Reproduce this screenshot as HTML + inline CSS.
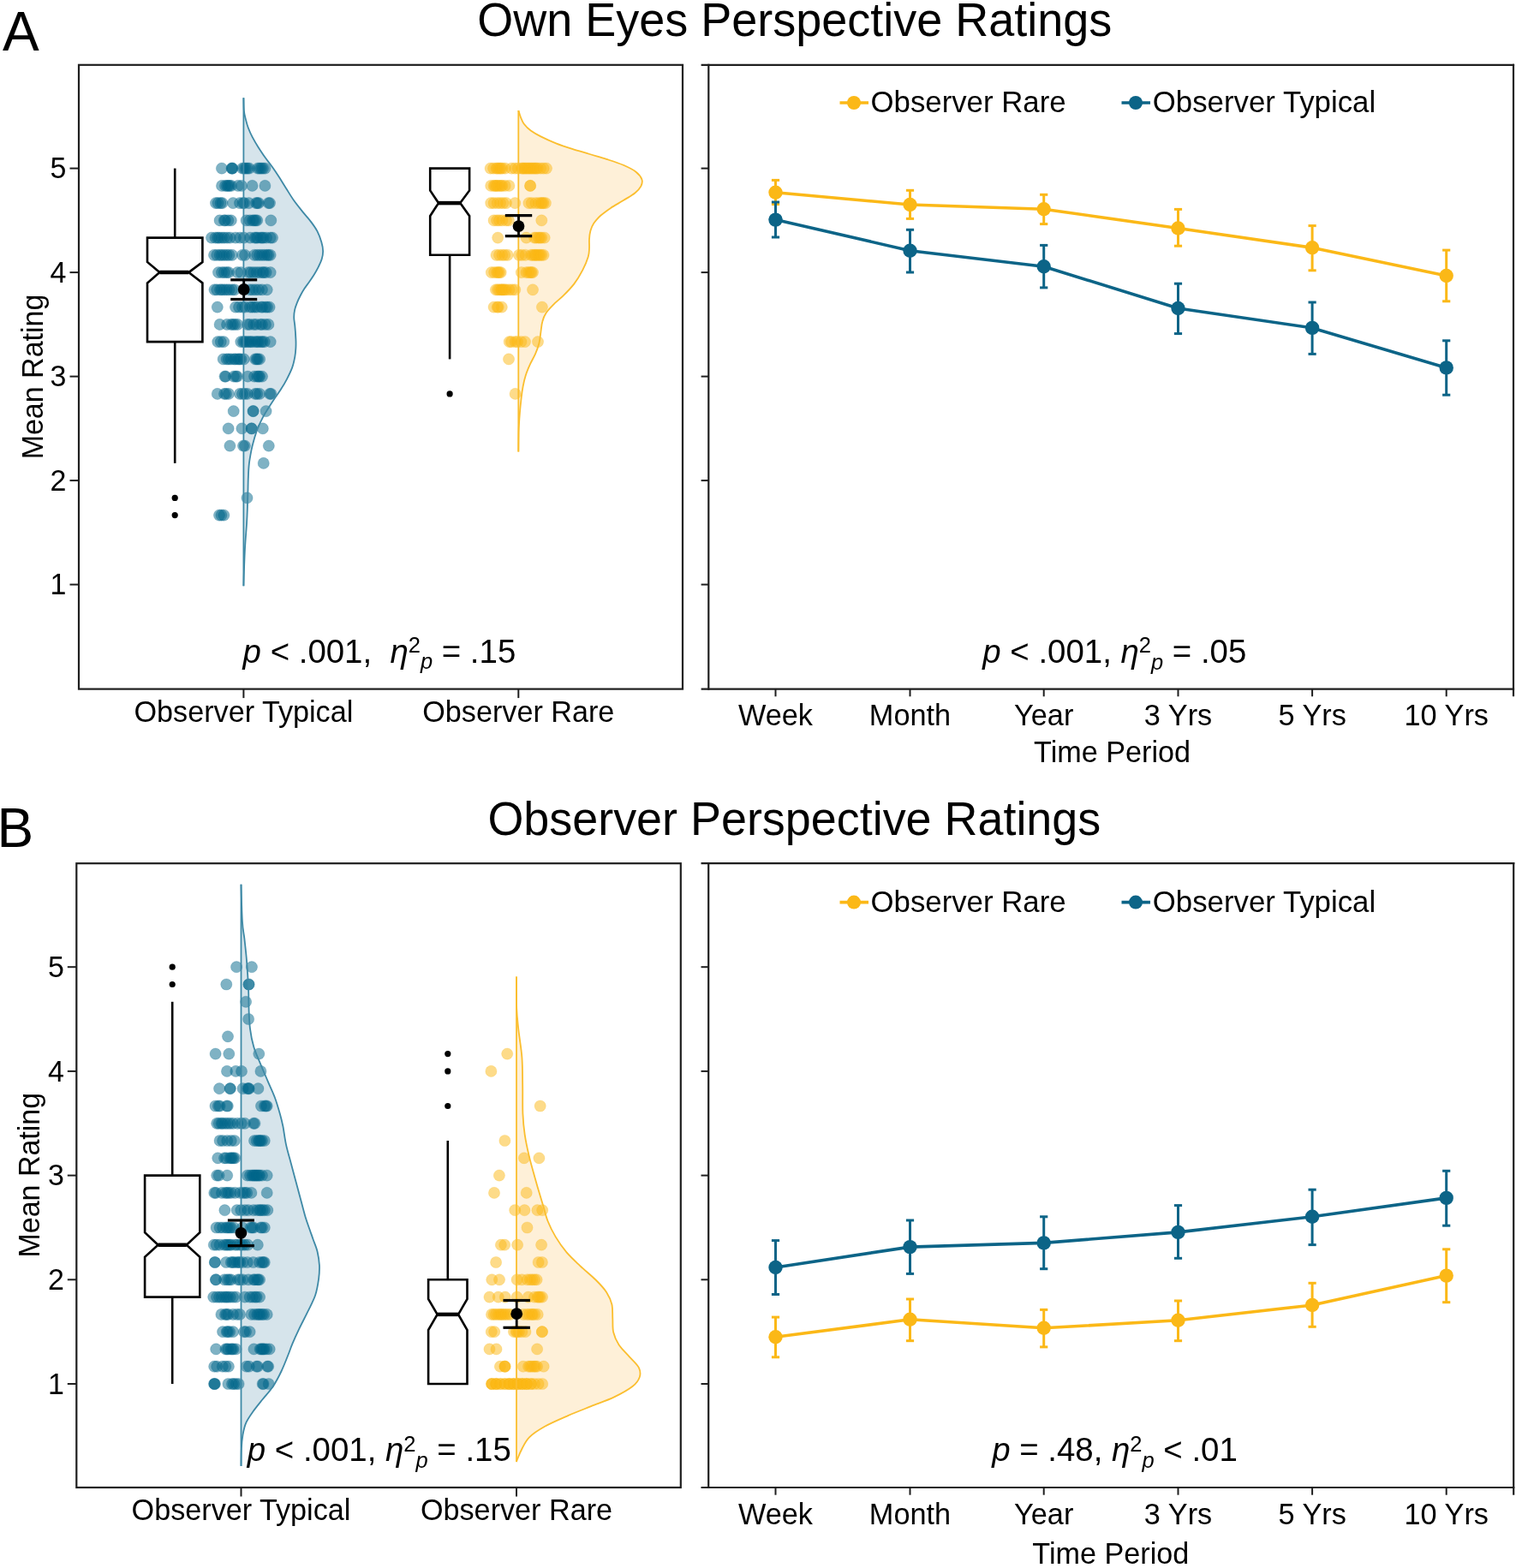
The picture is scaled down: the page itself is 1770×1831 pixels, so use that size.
<!DOCTYPE html>
<html><head><meta charset="utf-8"><title>Own Eyes and Observer Perspective Ratings</title><style>html,body{margin:0;padding:0;background:#fff;}svg{display:block;}</style></head><body>
<svg width="1770" height="1831" viewBox="0 0 1770 1831" font-family="'Liberation Sans', Arial, sans-serif" fill="#000">
<rect width="1770" height="1831" fill="#fff"/>
<text transform="translate(3 59.3) scale(1 1.0)" font-size="64" text-anchor="start">A</text>
<text transform="translate(557.2 42) scale(1 1.015)" font-size="54" text-anchor="start">Own Eyes Perspective Ratings</text>
<text transform="translate(-3.5 988.8) scale(1 1.0)" font-size="64" text-anchor="start">B</text>
<text transform="translate(569.4 975) scale(1 1.015)" font-size="53.9" text-anchor="start">Observer Perspective Ratings</text>
<path d="M284.4,114.3 C284.5,116.8 284.5,125.4 284.9,129.6 C285.3,133.8 286.1,136.1 286.9,139.4 C287.7,142.7 288.5,145.8 289.8,149.2 C291.1,152.6 292.7,156.3 294.7,160.1 C296.7,163.9 299.1,168 301.6,171.9 C304.1,175.8 306.7,179.8 309.5,183.7 C312.3,187.6 315.5,191.6 318.3,195.5 C321.1,199.4 323.6,203.2 326.2,207.3 C328.8,211.4 331.3,215.6 334.1,220 C336.9,224.4 339.8,229.4 342.9,233.8 C346,238.2 349.5,242.5 352.8,246.6 C356.1,250.7 359.7,254.5 362.6,258.4 C365.6,262.3 368.4,266.1 370.5,270.2 C372.6,274.3 374.3,279.2 375.4,283 C376.5,286.8 377.1,289.7 377.1,293 C377.2,296.3 376.6,299.5 375.7,302.6 C374.8,305.7 373.3,308.6 371.8,311.6 C370.3,314.6 368.5,317.8 366.7,320.7 C364.9,323.6 362.9,326.5 361,329.2 C359.1,331.9 357.1,334.5 355.4,337.1 C353.7,339.7 352.2,342.3 350.8,345 C349.4,347.7 348,350.6 346.9,353.4 C345.8,356.2 344.7,359.1 344.1,361.9 C343.5,364.7 343.2,367.3 343.2,370.4 C343.2,373.5 343.9,376.1 344.3,380.4 C344.7,384.6 345.2,391.6 345.4,395.9 C345.6,400.2 345.6,402.8 345.4,406.3 C345.2,409.8 345,412.9 344.3,416.7 C343.6,420.5 342.8,424.8 341.2,429.1 C339.6,433.4 337.2,438.3 335,442.6 C332.8,446.9 330.1,451.3 327.7,455.1 C325.3,458.9 322.9,461.8 320.5,465.4 C318.1,469 315.4,473.2 313.2,476.8 C310.9,480.4 309.1,483.2 307,487.2 C304.9,491.2 302.4,496.4 300.7,500.7 C299,505 297.8,509.1 296.6,513.2 C295.4,517.4 294.4,520.9 293.5,525.6 C292.6,530.3 291.5,536 290.9,541.2 C290.3,546.4 290.1,551.1 289.9,556.7 C289.6,562.3 289.6,568.6 289.4,575 C289.2,581.4 289,588.8 288.8,595 C288.6,601.2 288.5,604.1 288,612 C287.5,619.9 286.5,630.2 285.9,642.2 C285.3,654.2 284.6,677.2 284.4,684.2 L284.4,684.2 L284.4,114.3 Z" fill="#d6e4eb" stroke="none"/>
<path d="M605.4,128.9 C605.8,130.2 606.8,134.2 607.9,136.8 C609,139.4 609.8,142.1 611.8,144.7 C613.8,147.3 616.4,150.1 619.7,152.5 C623,154.9 626.5,156.9 631.4,159.4 C636.3,161.9 642.9,164.9 649.1,167.3 C655.3,169.8 662.2,172 668.8,174.1 C675.4,176.2 682,178 688.5,180 C695,182 701.6,183.8 708.1,185.9 C714.6,188 722.1,190.3 727.8,192.8 C733.5,195.3 738.9,197.9 742.5,200.7 C746.1,203.5 748.4,206.7 749.4,209.5 C750.4,212.3 749.7,214.8 748.4,217.4 C747.1,220 744.9,222.4 741.5,225.2 C738.1,228 732.5,231.1 727.8,234.1 C723,237.1 717.4,239.9 713,242.9 C708.6,245.9 704.5,248.9 701.2,251.8 C697.9,254.8 695.4,257.7 693.4,260.6 C691.4,263.6 690.3,266.4 689.4,269.5 C688.5,272.6 688.2,275.9 688,279.3 C687.8,282.7 688.2,286.6 688,290 C687.8,293.4 688,295.8 686.7,300 C685.4,304.2 683.1,309.9 680.4,315.1 C677.7,320.3 674.2,326.4 670.4,331.4 C666.6,336.4 661.8,341.2 657.8,345.2 C653.8,349.2 649.9,351.9 646.5,355.3 C643.1,358.7 639.9,362 637.7,365.3 C635.5,368.6 634.3,371.6 633.3,375.4 C632.2,379.2 632,383.7 631.4,387.9 C630.8,392.1 630.5,396.3 629.5,400.5 C628.5,404.7 626.9,408.9 625.1,413.1 C623.3,417.3 620.7,421.4 618.8,425.6 C616.9,429.8 615.1,434 613.8,438.2 C612.4,442.4 611.5,446.6 610.7,450.8 C609.9,455 609.4,458.1 608.8,463.3 C608.2,468.5 607.4,475.9 606.9,482.2 C606.4,488.5 606,493.5 605.7,501 C605.4,508.5 605.4,523 605.3,527.4 L605.3,527.4 L605.3,128.9 Z" fill="#fef0d8" stroke="none"/>
<g fill="#00668a" fill-opacity="0.5" stroke="#00668a" stroke-opacity="0.3" stroke-width="0.7">
<circle cx="258.9" cy="196.6" r="6.6"/>
<circle cx="270.5" cy="196.6" r="6.6"/>
<circle cx="271" cy="196.6" r="6.6"/>
<circle cx="271.5" cy="196.6" r="6.6"/>
<circle cx="283" cy="196.6" r="6.6"/>
<circle cx="285" cy="196.6" r="6.6"/>
<circle cx="287" cy="196.6" r="6.6"/>
<circle cx="289" cy="196.6" r="6.6"/>
<circle cx="291" cy="196.6" r="6.6"/>
<circle cx="301" cy="196.6" r="6.6"/>
<circle cx="303" cy="196.6" r="6.6"/>
<circle cx="305" cy="196.6" r="6.6"/>
<circle cx="307" cy="196.6" r="6.6"/>
<circle cx="309.5" cy="196.6" r="6.6"/>
<circle cx="259" cy="216.9" r="6.6"/>
<circle cx="263" cy="216.9" r="6.6"/>
<circle cx="265" cy="216.9" r="6.6"/>
<circle cx="266.5" cy="216.9" r="6.6"/>
<circle cx="268" cy="216.9" r="6.6"/>
<circle cx="270" cy="216.9" r="6.6"/>
<circle cx="277.9" cy="216.9" r="6.6"/>
<circle cx="282" cy="216.9" r="6.6"/>
<circle cx="294.5" cy="216.9" r="6.6"/>
<circle cx="309.4" cy="216.9" r="6.6"/>
<circle cx="252" cy="237.1" r="6.6"/>
<circle cx="254.5" cy="237.1" r="6.6"/>
<circle cx="257.5" cy="237.1" r="6.6"/>
<circle cx="259.5" cy="237.1" r="6.6"/>
<circle cx="272.1" cy="237.1" r="6.6"/>
<circle cx="280" cy="237.1" r="6.6"/>
<circle cx="283.6" cy="237.1" r="6.6"/>
<circle cx="285.3" cy="237.1" r="6.6"/>
<circle cx="290.5" cy="237.1" r="6.6"/>
<circle cx="299" cy="237.1" r="6.6"/>
<circle cx="300.5" cy="237.1" r="6.6"/>
<circle cx="302" cy="237.1" r="6.6"/>
<circle cx="313.5" cy="237.1" r="6.6"/>
<circle cx="315" cy="237.1" r="6.6"/>
<circle cx="256.6" cy="257.4" r="6.6"/>
<circle cx="261.8" cy="257.4" r="6.6"/>
<circle cx="263" cy="257.4" r="6.6"/>
<circle cx="266.4" cy="257.4" r="6.6"/>
<circle cx="269.8" cy="257.4" r="6.6"/>
<circle cx="287.6" cy="257.4" r="6.6"/>
<circle cx="291.6" cy="257.4" r="6.6"/>
<circle cx="295" cy="257.4" r="6.6"/>
<circle cx="296.8" cy="257.4" r="6.6"/>
<circle cx="298.5" cy="257.4" r="6.6"/>
<circle cx="300.2" cy="257.4" r="6.6"/>
<circle cx="316.3" cy="257.4" r="6.6"/>
<circle cx="247" cy="277.6" r="6.6"/>
<circle cx="251.5" cy="277.6" r="6.6"/>
<circle cx="254" cy="277.6" r="6.6"/>
<circle cx="256" cy="277.6" r="6.6"/>
<circle cx="259" cy="277.6" r="6.6"/>
<circle cx="261.8" cy="277.6" r="6.6"/>
<circle cx="265.2" cy="277.6" r="6.6"/>
<circle cx="268.7" cy="277.6" r="6.6"/>
<circle cx="275" cy="277.6" r="6.6"/>
<circle cx="280.2" cy="277.6" r="6.6"/>
<circle cx="284.8" cy="277.6" r="6.6"/>
<circle cx="292" cy="277.6" r="6.6"/>
<circle cx="297.4" cy="277.6" r="6.6"/>
<circle cx="299" cy="277.6" r="6.6"/>
<circle cx="300.8" cy="277.6" r="6.6"/>
<circle cx="304.3" cy="277.6" r="6.6"/>
<circle cx="306" cy="277.6" r="6.6"/>
<circle cx="307.7" cy="277.6" r="6.6"/>
<circle cx="311.1" cy="277.6" r="6.6"/>
<circle cx="315.7" cy="277.6" r="6.6"/>
<circle cx="318" cy="277.6" r="6.6"/>
<circle cx="250" cy="297.8" r="6.6"/>
<circle cx="253.2" cy="297.8" r="6.6"/>
<circle cx="256.6" cy="297.8" r="6.6"/>
<circle cx="259" cy="297.8" r="6.6"/>
<circle cx="261.8" cy="297.8" r="6.6"/>
<circle cx="264.7" cy="297.8" r="6.6"/>
<circle cx="267.5" cy="297.8" r="6.6"/>
<circle cx="271" cy="297.8" r="6.6"/>
<circle cx="283" cy="297.8" r="6.6"/>
<circle cx="286" cy="297.8" r="6.6"/>
<circle cx="297" cy="297.8" r="6.6"/>
<circle cx="300.2" cy="297.8" r="6.6"/>
<circle cx="303.1" cy="297.8" r="6.6"/>
<circle cx="306" cy="297.8" r="6.6"/>
<circle cx="308.8" cy="297.8" r="6.6"/>
<circle cx="311.7" cy="297.8" r="6.6"/>
<circle cx="313.5" cy="297.8" r="6.6"/>
<circle cx="315.7" cy="297.8" r="6.6"/>
<circle cx="255" cy="318.1" r="6.6"/>
<circle cx="259" cy="318.1" r="6.6"/>
<circle cx="261.8" cy="318.1" r="6.6"/>
<circle cx="264.7" cy="318.1" r="6.6"/>
<circle cx="267" cy="318.1" r="6.6"/>
<circle cx="277.3" cy="318.1" r="6.6"/>
<circle cx="281.3" cy="318.1" r="6.6"/>
<circle cx="290" cy="318.1" r="6.6"/>
<circle cx="292.8" cy="318.1" r="6.6"/>
<circle cx="296.2" cy="318.1" r="6.6"/>
<circle cx="299.7" cy="318.1" r="6.6"/>
<circle cx="303.1" cy="318.1" r="6.6"/>
<circle cx="306.5" cy="318.1" r="6.6"/>
<circle cx="308" cy="318.1" r="6.6"/>
<circle cx="310.6" cy="318.1" r="6.6"/>
<circle cx="315.7" cy="318.1" r="6.6"/>
<circle cx="250.5" cy="338.3" r="6.6"/>
<circle cx="253.2" cy="338.3" r="6.6"/>
<circle cx="257" cy="338.3" r="6.6"/>
<circle cx="259" cy="338.3" r="6.6"/>
<circle cx="261.8" cy="338.3" r="6.6"/>
<circle cx="264.7" cy="338.3" r="6.6"/>
<circle cx="267.5" cy="338.3" r="6.6"/>
<circle cx="271" cy="338.3" r="6.6"/>
<circle cx="274" cy="338.3" r="6.6"/>
<circle cx="291.6" cy="338.3" r="6.6"/>
<circle cx="295" cy="338.3" r="6.6"/>
<circle cx="298.5" cy="338.3" r="6.6"/>
<circle cx="302" cy="338.3" r="6.6"/>
<circle cx="306" cy="338.3" r="6.6"/>
<circle cx="311.7" cy="338.3" r="6.6"/>
<circle cx="253.8" cy="358.6" r="6.6"/>
<circle cx="275" cy="358.6" r="6.6"/>
<circle cx="279" cy="358.6" r="6.6"/>
<circle cx="283" cy="358.6" r="6.6"/>
<circle cx="286" cy="358.6" r="6.6"/>
<circle cx="292" cy="358.6" r="6.6"/>
<circle cx="294.5" cy="358.6" r="6.6"/>
<circle cx="297.4" cy="358.6" r="6.6"/>
<circle cx="300" cy="358.6" r="6.6"/>
<circle cx="305" cy="358.6" r="6.6"/>
<circle cx="306.5" cy="358.6" r="6.6"/>
<circle cx="310" cy="358.6" r="6.6"/>
<circle cx="312" cy="358.6" r="6.6"/>
<circle cx="314.6" cy="358.6" r="6.6"/>
<circle cx="256.6" cy="378.9" r="6.6"/>
<circle cx="265" cy="378.9" r="6.6"/>
<circle cx="269.8" cy="378.9" r="6.6"/>
<circle cx="272" cy="378.9" r="6.6"/>
<circle cx="274.4" cy="378.9" r="6.6"/>
<circle cx="277.3" cy="378.9" r="6.6"/>
<circle cx="289" cy="378.9" r="6.6"/>
<circle cx="291.6" cy="378.9" r="6.6"/>
<circle cx="296.2" cy="378.9" r="6.6"/>
<circle cx="299" cy="378.9" r="6.6"/>
<circle cx="304" cy="378.9" r="6.6"/>
<circle cx="306" cy="378.9" r="6.6"/>
<circle cx="310" cy="378.9" r="6.6"/>
<circle cx="313.4" cy="378.9" r="6.6"/>
<circle cx="254.3" cy="399.1" r="6.6"/>
<circle cx="257.8" cy="399.1" r="6.6"/>
<circle cx="261.2" cy="399.1" r="6.6"/>
<circle cx="281.3" cy="399.1" r="6.6"/>
<circle cx="284" cy="399.1" r="6.6"/>
<circle cx="285.9" cy="399.1" r="6.6"/>
<circle cx="288" cy="399.1" r="6.6"/>
<circle cx="290.5" cy="399.1" r="6.6"/>
<circle cx="292.5" cy="399.1" r="6.6"/>
<circle cx="294.5" cy="399.1" r="6.6"/>
<circle cx="298" cy="399.1" r="6.6"/>
<circle cx="300.2" cy="399.1" r="6.6"/>
<circle cx="302" cy="399.1" r="6.6"/>
<circle cx="304.8" cy="399.1" r="6.6"/>
<circle cx="306.5" cy="399.1" r="6.6"/>
<circle cx="308.8" cy="399.1" r="6.6"/>
<circle cx="315.7" cy="399.1" r="6.6"/>
<circle cx="260.7" cy="419.4" r="6.6"/>
<circle cx="264.7" cy="419.4" r="6.6"/>
<circle cx="267" cy="419.4" r="6.6"/>
<circle cx="269.8" cy="419.4" r="6.6"/>
<circle cx="273.3" cy="419.4" r="6.6"/>
<circle cx="275" cy="419.4" r="6.6"/>
<circle cx="277.9" cy="419.4" r="6.6"/>
<circle cx="279.5" cy="419.4" r="6.6"/>
<circle cx="281.3" cy="419.4" r="6.6"/>
<circle cx="284.8" cy="419.4" r="6.6"/>
<circle cx="298" cy="419.4" r="6.6"/>
<circle cx="299.7" cy="419.4" r="6.6"/>
<circle cx="301" cy="419.4" r="6.6"/>
<circle cx="303.1" cy="419.4" r="6.6"/>
<circle cx="262.5" cy="439.6" r="6.6"/>
<circle cx="263.5" cy="439.6" r="6.6"/>
<circle cx="273" cy="439.6" r="6.6"/>
<circle cx="275.5" cy="439.6" r="6.6"/>
<circle cx="277" cy="439.6" r="6.6"/>
<circle cx="289.3" cy="439.6" r="6.6"/>
<circle cx="297" cy="439.6" r="6.6"/>
<circle cx="300.2" cy="439.6" r="6.6"/>
<circle cx="302" cy="439.6" r="6.6"/>
<circle cx="303.1" cy="439.6" r="6.6"/>
<circle cx="306" cy="439.6" r="6.6"/>
<circle cx="253.8" cy="459.9" r="6.6"/>
<circle cx="262" cy="459.9" r="6.6"/>
<circle cx="264" cy="459.9" r="6.6"/>
<circle cx="267" cy="459.9" r="6.6"/>
<circle cx="280" cy="459.9" r="6.6"/>
<circle cx="283" cy="459.9" r="6.6"/>
<circle cx="285.9" cy="459.9" r="6.6"/>
<circle cx="288.8" cy="459.9" r="6.6"/>
<circle cx="298" cy="459.9" r="6.6"/>
<circle cx="300.2" cy="459.9" r="6.6"/>
<circle cx="303.1" cy="459.9" r="6.6"/>
<circle cx="315" cy="459.9" r="6.6"/>
<circle cx="316.5" cy="459.9" r="6.6"/>
<circle cx="272.7" cy="480.1" r="6.6"/>
<circle cx="295.6" cy="480.1" r="6.6"/>
<circle cx="295.6" cy="480.1" r="6.6"/>
<circle cx="310.6" cy="480.1" r="6.6"/>
<circle cx="266.6" cy="500.4" r="6.6"/>
<circle cx="282.4" cy="500.4" r="6.6"/>
<circle cx="293.7" cy="500.4" r="6.6"/>
<circle cx="293.7" cy="500.4" r="6.6"/>
<circle cx="306.8" cy="500.4" r="6.6"/>
<circle cx="268.4" cy="520.6" r="6.6"/>
<circle cx="284" cy="520.6" r="6.6"/>
<circle cx="285.9" cy="520.6" r="6.6"/>
<circle cx="313.8" cy="520.6" r="6.6"/>
<circle cx="307.7" cy="540.9" r="6.6"/>
<circle cx="288.5" cy="581.4" r="6.6"/>
<circle cx="256" cy="601.6" r="6.6"/>
<circle cx="258.5" cy="601.6" r="6.6"/>
<circle cx="261.4" cy="601.6" r="6.6"/>
</g>
<g fill="#fbb713" fill-opacity="0.5" stroke="#fbb713" stroke-opacity="0.3" stroke-width="0.7">
<circle cx="572.6" cy="196.6" r="6.6"/>
<circle cx="576.1" cy="196.6" r="6.6"/>
<circle cx="579.5" cy="196.6" r="6.6"/>
<circle cx="581" cy="196.6" r="6.6"/>
<circle cx="583" cy="196.6" r="6.6"/>
<circle cx="584.5" cy="196.6" r="6.6"/>
<circle cx="586.4" cy="196.6" r="6.6"/>
<circle cx="589.8" cy="196.6" r="6.6"/>
<circle cx="597.3" cy="196.6" r="6.6"/>
<circle cx="601.3" cy="196.6" r="6.6"/>
<circle cx="604.8" cy="196.6" r="6.6"/>
<circle cx="609" cy="196.6" r="6.6"/>
<circle cx="610.5" cy="196.6" r="6.6"/>
<circle cx="612" cy="196.6" r="6.6"/>
<circle cx="613.9" cy="196.6" r="6.6"/>
<circle cx="615.5" cy="196.6" r="6.6"/>
<circle cx="617.4" cy="196.6" r="6.6"/>
<circle cx="619" cy="196.6" r="6.6"/>
<circle cx="620.8" cy="196.6" r="6.6"/>
<circle cx="622.5" cy="196.6" r="6.6"/>
<circle cx="624.3" cy="196.6" r="6.6"/>
<circle cx="626" cy="196.6" r="6.6"/>
<circle cx="627.7" cy="196.6" r="6.6"/>
<circle cx="631.1" cy="196.6" r="6.6"/>
<circle cx="634.6" cy="196.6" r="6.6"/>
<circle cx="638" cy="196.6" r="6.6"/>
<circle cx="573.2" cy="216.9" r="6.6"/>
<circle cx="576.6" cy="216.9" r="6.6"/>
<circle cx="578" cy="216.9" r="6.6"/>
<circle cx="579.5" cy="216.9" r="6.6"/>
<circle cx="581" cy="216.9" r="6.6"/>
<circle cx="583" cy="216.9" r="6.6"/>
<circle cx="585" cy="216.9" r="6.6"/>
<circle cx="586.4" cy="216.9" r="6.6"/>
<circle cx="589.8" cy="216.9" r="6.6"/>
<circle cx="594.4" cy="216.9" r="6.6"/>
<circle cx="619.1" cy="216.9" r="6.6"/>
<circle cx="619.1" cy="216.9" r="6.6"/>
<circle cx="573.2" cy="237.1" r="6.6"/>
<circle cx="576.6" cy="237.1" r="6.6"/>
<circle cx="580.7" cy="237.1" r="6.6"/>
<circle cx="584.1" cy="237.1" r="6.6"/>
<circle cx="587.5" cy="237.1" r="6.6"/>
<circle cx="591" cy="237.1" r="6.6"/>
<circle cx="601.3" cy="237.1" r="6.6"/>
<circle cx="617.4" cy="237.1" r="6.6"/>
<circle cx="620.8" cy="237.1" r="6.6"/>
<circle cx="625.4" cy="237.1" r="6.6"/>
<circle cx="629" cy="237.1" r="6.6"/>
<circle cx="631.7" cy="237.1" r="6.6"/>
<circle cx="633" cy="237.1" r="6.6"/>
<circle cx="634.6" cy="237.1" r="6.6"/>
<circle cx="636.9" cy="237.1" r="6.6"/>
<circle cx="576.6" cy="257.4" r="6.6"/>
<circle cx="580.1" cy="257.4" r="6.6"/>
<circle cx="583" cy="257.4" r="6.6"/>
<circle cx="586.4" cy="257.4" r="6.6"/>
<circle cx="591" cy="257.4" r="6.6"/>
<circle cx="593.9" cy="257.4" r="6.6"/>
<circle cx="632.3" cy="257.4" r="6.6"/>
<circle cx="581.2" cy="277.6" r="6.6"/>
<circle cx="614.5" cy="277.6" r="6.6"/>
<circle cx="624" cy="277.6" r="6.6"/>
<circle cx="626" cy="277.6" r="6.6"/>
<circle cx="628.8" cy="277.6" r="6.6"/>
<circle cx="630.5" cy="277.6" r="6.6"/>
<circle cx="632.3" cy="277.6" r="6.6"/>
<circle cx="635.7" cy="277.6" r="6.6"/>
<circle cx="579.5" cy="297.8" r="6.6"/>
<circle cx="583" cy="297.8" r="6.6"/>
<circle cx="586.4" cy="297.8" r="6.6"/>
<circle cx="589.3" cy="297.8" r="6.6"/>
<circle cx="592.7" cy="297.8" r="6.6"/>
<circle cx="605.9" cy="297.8" r="6.6"/>
<circle cx="609.3" cy="297.8" r="6.6"/>
<circle cx="613.4" cy="297.8" r="6.6"/>
<circle cx="620" cy="297.8" r="6.6"/>
<circle cx="622" cy="297.8" r="6.6"/>
<circle cx="624" cy="297.8" r="6.6"/>
<circle cx="625.4" cy="297.8" r="6.6"/>
<circle cx="627" cy="297.8" r="6.6"/>
<circle cx="628.8" cy="297.8" r="6.6"/>
<circle cx="630.5" cy="297.8" r="6.6"/>
<circle cx="632.3" cy="297.8" r="6.6"/>
<circle cx="634.6" cy="297.8" r="6.6"/>
<circle cx="573.8" cy="318.1" r="6.6"/>
<circle cx="577.2" cy="318.1" r="6.6"/>
<circle cx="580.1" cy="318.1" r="6.6"/>
<circle cx="581.5" cy="318.1" r="6.6"/>
<circle cx="583" cy="318.1" r="6.6"/>
<circle cx="584.7" cy="318.1" r="6.6"/>
<circle cx="608.8" cy="318.1" r="6.6"/>
<circle cx="614.5" cy="318.1" r="6.6"/>
<circle cx="617" cy="318.1" r="6.6"/>
<circle cx="619.1" cy="318.1" r="6.6"/>
<circle cx="620.5" cy="318.1" r="6.6"/>
<circle cx="622" cy="318.1" r="6.6"/>
<circle cx="578.9" cy="338.3" r="6.6"/>
<circle cx="581" cy="338.3" r="6.6"/>
<circle cx="583" cy="338.3" r="6.6"/>
<circle cx="585.2" cy="338.3" r="6.6"/>
<circle cx="586" cy="338.3" r="6.6"/>
<circle cx="587.5" cy="338.3" r="6.6"/>
<circle cx="589" cy="338.3" r="6.6"/>
<circle cx="591" cy="338.3" r="6.6"/>
<circle cx="594.4" cy="338.3" r="6.6"/>
<circle cx="597.9" cy="338.3" r="6.6"/>
<circle cx="601.3" cy="338.3" r="6.6"/>
<circle cx="622" cy="338.3" r="6.6"/>
<circle cx="576.6" cy="358.6" r="6.6"/>
<circle cx="580.7" cy="358.6" r="6.6"/>
<circle cx="581.8" cy="358.6" r="6.6"/>
<circle cx="585.8" cy="358.6" r="6.6"/>
<circle cx="632.9" cy="358.6" r="6.6"/>
<circle cx="594.7" cy="399.1" r="6.6"/>
<circle cx="597" cy="399.1" r="6.6"/>
<circle cx="601.6" cy="399.1" r="6.6"/>
<circle cx="604" cy="399.1" r="6.6"/>
<circle cx="608.4" cy="399.1" r="6.6"/>
<circle cx="613" cy="399.1" r="6.6"/>
<circle cx="628" cy="399.1" r="6.6"/>
<circle cx="594" cy="419.4" r="6.6"/>
<circle cx="601.6" cy="459.9" r="6.6"/>
</g>
<path d="M284.4,114.3 C284.5,116.8 284.5,125.4 284.9,129.6 C285.3,133.8 286.1,136.1 286.9,139.4 C287.7,142.7 288.5,145.8 289.8,149.2 C291.1,152.6 292.7,156.3 294.7,160.1 C296.7,163.9 299.1,168 301.6,171.9 C304.1,175.8 306.7,179.8 309.5,183.7 C312.3,187.6 315.5,191.6 318.3,195.5 C321.1,199.4 323.6,203.2 326.2,207.3 C328.8,211.4 331.3,215.6 334.1,220 C336.9,224.4 339.8,229.4 342.9,233.8 C346,238.2 349.5,242.5 352.8,246.6 C356.1,250.7 359.7,254.5 362.6,258.4 C365.6,262.3 368.4,266.1 370.5,270.2 C372.6,274.3 374.3,279.2 375.4,283 C376.5,286.8 377.1,289.7 377.1,293 C377.2,296.3 376.6,299.5 375.7,302.6 C374.8,305.7 373.3,308.6 371.8,311.6 C370.3,314.6 368.5,317.8 366.7,320.7 C364.9,323.6 362.9,326.5 361,329.2 C359.1,331.9 357.1,334.5 355.4,337.1 C353.7,339.7 352.2,342.3 350.8,345 C349.4,347.7 348,350.6 346.9,353.4 C345.8,356.2 344.7,359.1 344.1,361.9 C343.5,364.7 343.2,367.3 343.2,370.4 C343.2,373.5 343.9,376.1 344.3,380.4 C344.7,384.6 345.2,391.6 345.4,395.9 C345.6,400.2 345.6,402.8 345.4,406.3 C345.2,409.8 345,412.9 344.3,416.7 C343.6,420.5 342.8,424.8 341.2,429.1 C339.6,433.4 337.2,438.3 335,442.6 C332.8,446.9 330.1,451.3 327.7,455.1 C325.3,458.9 322.9,461.8 320.5,465.4 C318.1,469 315.4,473.2 313.2,476.8 C310.9,480.4 309.1,483.2 307,487.2 C304.9,491.2 302.4,496.4 300.7,500.7 C299,505 297.8,509.1 296.6,513.2 C295.4,517.4 294.4,520.9 293.5,525.6 C292.6,530.3 291.5,536 290.9,541.2 C290.3,546.4 290.1,551.1 289.9,556.7 C289.6,562.3 289.6,568.6 289.4,575 C289.2,581.4 289,588.8 288.8,595 C288.6,601.2 288.5,604.1 288,612 C287.5,619.9 286.5,630.2 285.9,642.2 C285.3,654.2 284.6,677.2 284.4,684.2" fill="none" stroke="#3e89a6" stroke-width="1.8"/>
<line x1="284.4" y1="114.3" x2="284.4" y2="684.2" stroke="#3e89a6" stroke-width="1.8" stroke-linecap="butt"/>
<path d="M605.4,128.9 C605.8,130.2 606.8,134.2 607.9,136.8 C609,139.4 609.8,142.1 611.8,144.7 C613.8,147.3 616.4,150.1 619.7,152.5 C623,154.9 626.5,156.9 631.4,159.4 C636.3,161.9 642.9,164.9 649.1,167.3 C655.3,169.8 662.2,172 668.8,174.1 C675.4,176.2 682,178 688.5,180 C695,182 701.6,183.8 708.1,185.9 C714.6,188 722.1,190.3 727.8,192.8 C733.5,195.3 738.9,197.9 742.5,200.7 C746.1,203.5 748.4,206.7 749.4,209.5 C750.4,212.3 749.7,214.8 748.4,217.4 C747.1,220 744.9,222.4 741.5,225.2 C738.1,228 732.5,231.1 727.8,234.1 C723,237.1 717.4,239.9 713,242.9 C708.6,245.9 704.5,248.9 701.2,251.8 C697.9,254.8 695.4,257.7 693.4,260.6 C691.4,263.6 690.3,266.4 689.4,269.5 C688.5,272.6 688.2,275.9 688,279.3 C687.8,282.7 688.2,286.6 688,290 C687.8,293.4 688,295.8 686.7,300 C685.4,304.2 683.1,309.9 680.4,315.1 C677.7,320.3 674.2,326.4 670.4,331.4 C666.6,336.4 661.8,341.2 657.8,345.2 C653.8,349.2 649.9,351.9 646.5,355.3 C643.1,358.7 639.9,362 637.7,365.3 C635.5,368.6 634.3,371.6 633.3,375.4 C632.2,379.2 632,383.7 631.4,387.9 C630.8,392.1 630.5,396.3 629.5,400.5 C628.5,404.7 626.9,408.9 625.1,413.1 C623.3,417.3 620.7,421.4 618.8,425.6 C616.9,429.8 615.1,434 613.8,438.2 C612.4,442.4 611.5,446.6 610.7,450.8 C609.9,455 609.4,458.1 608.8,463.3 C608.2,468.5 607.4,475.9 606.9,482.2 C606.4,488.5 606,493.5 605.7,501 C605.4,508.5 605.4,523 605.3,527.4" fill="none" stroke="#fbbe2e" stroke-width="1.8"/>
<line x1="605.3" y1="128.9" x2="605.3" y2="527.4" stroke="#fbbe2e" stroke-width="1.8" stroke-linecap="butt"/>
<path d="M172,277.6 L236.4,277.6 L236.4,306 L220.3,318.1 L236.4,330.5 L236.4,399.1 L172,399.1 L172,330.5 L186.4,318.1 L172,306 Z" fill="#fff" stroke="#000" stroke-width="2.6" stroke-linejoin="miter"/>
<line x1="186.4" y1="318.1" x2="220.3" y2="318.1" stroke="#000" stroke-width="4.5" stroke-linecap="butt"/>
<line x1="204.2" y1="196.6" x2="204.2" y2="277.6" stroke="#000" stroke-width="2.6" stroke-linecap="butt"/>
<line x1="204.2" y1="399.1" x2="204.2" y2="540.9" stroke="#000" stroke-width="2.6" stroke-linecap="butt"/>
<circle cx="204.2" cy="581.4" r="3.6" fill="#000"/>
<circle cx="204.2" cy="601.6" r="3.6" fill="#000"/>
<line x1="284.7" y1="326.8" x2="284.7" y2="349.5" stroke="#000" stroke-width="2.8" stroke-linecap="butt"/>
<line x1="269.2" y1="326.8" x2="300.2" y2="326.8" stroke="#000" stroke-width="3.2" stroke-linecap="butt"/>
<line x1="269.2" y1="349.5" x2="300.2" y2="349.5" stroke="#000" stroke-width="3.2" stroke-linecap="butt"/>
<circle cx="284.7" cy="338" r="6.9" fill="#000"/>
<path d="M502.2,196.6 L548.1,196.6 L548.1,222.4 L537.3,237.1 L548.1,252.2 L548.1,297.8 L502.2,297.8 L502.2,252.2 L512,237.1 L502.2,222.4 Z" fill="#fff" stroke="#000" stroke-width="2.6" stroke-linejoin="miter"/>
<line x1="512" y1="237.1" x2="537.3" y2="237.1" stroke="#000" stroke-width="4.5" stroke-linecap="butt"/>
<line x1="525.1" y1="297.8" x2="525.1" y2="419.4" stroke="#000" stroke-width="2.6" stroke-linecap="butt"/>
<circle cx="525.1" cy="459.9" r="3.6" fill="#000"/>
<line x1="605.5" y1="251.7" x2="605.5" y2="275.6" stroke="#000" stroke-width="2.8" stroke-linecap="butt"/>
<line x1="589.8" y1="251.7" x2="621.2" y2="251.7" stroke="#000" stroke-width="3.2" stroke-linecap="butt"/>
<line x1="589.8" y1="275.6" x2="621.2" y2="275.6" stroke="#000" stroke-width="3.2" stroke-linecap="butt"/>
<circle cx="605.5" cy="264.1" r="6.9" fill="#000"/>
<rect x="92" y="75.8" width="705" height="728.8" fill="none" stroke="#1e1e1e" stroke-width="2.2"/>
<line x1="81.5" y1="682.6" x2="92" y2="682.6" stroke="#1e1e1e" stroke-width="2" stroke-linecap="butt"/>
<text transform="translate(77.5 694.4) scale(1 1.045)" font-size="34" text-anchor="end">1</text>
<line x1="81.5" y1="561.1" x2="92" y2="561.1" stroke="#1e1e1e" stroke-width="2" stroke-linecap="butt"/>
<text transform="translate(77.5 572.9) scale(1 1.045)" font-size="34" text-anchor="end">2</text>
<line x1="81.5" y1="439.6" x2="92" y2="439.6" stroke="#1e1e1e" stroke-width="2" stroke-linecap="butt"/>
<text transform="translate(77.5 451.4) scale(1 1.045)" font-size="34" text-anchor="end">3</text>
<line x1="81.5" y1="318.1" x2="92" y2="318.1" stroke="#1e1e1e" stroke-width="2" stroke-linecap="butt"/>
<text transform="translate(77.5 329.9) scale(1 1.045)" font-size="34" text-anchor="end">4</text>
<line x1="81.5" y1="196.6" x2="92" y2="196.6" stroke="#1e1e1e" stroke-width="2" stroke-linecap="butt"/>
<text transform="translate(77.5 208.4) scale(1 1.045)" font-size="34" text-anchor="end">5</text>
<line x1="284.4" y1="804.6" x2="284.4" y2="815.1" stroke="#1e1e1e" stroke-width="2" stroke-linecap="butt"/>
<text transform="translate(284.4 843.2) scale(1 1.015)" font-size="34.2" text-anchor="middle">Observer Typical</text>
<line x1="605.3" y1="804.6" x2="605.3" y2="815.1" stroke="#1e1e1e" stroke-width="2" stroke-linecap="butt"/>
<text transform="translate(605.3 843.2) scale(1 1.015)" font-size="34.2" text-anchor="middle">Observer Rare</text>
<text transform="translate(49.5 440) rotate(-90) scale(1 1.015)" font-size="34" text-anchor="middle">Mean Rating</text>
<line x1="818.6" y1="75.8" x2="1768.1" y2="75.8" stroke="#1e1e1e" stroke-width="2.2" stroke-linecap="butt"/>
<line x1="818.6" y1="804.6" x2="1768.1" y2="804.6" stroke="#1e1e1e" stroke-width="2.2" stroke-linecap="butt"/>
<line x1="827.3" y1="74.7" x2="827.3" y2="805.7" stroke="#1e1e1e" stroke-width="2.2" stroke-linecap="butt"/>
<line x1="1767" y1="74.7" x2="1767" y2="813.3" stroke="#1e1e1e" stroke-width="2.2" stroke-linecap="butt"/>
<line x1="818.6" y1="682.6" x2="827.3" y2="682.6" stroke="#1e1e1e" stroke-width="2" stroke-linecap="butt"/>
<line x1="818.6" y1="561.1" x2="827.3" y2="561.1" stroke="#1e1e1e" stroke-width="2" stroke-linecap="butt"/>
<line x1="818.6" y1="439.6" x2="827.3" y2="439.6" stroke="#1e1e1e" stroke-width="2" stroke-linecap="butt"/>
<line x1="818.6" y1="318.1" x2="827.3" y2="318.1" stroke="#1e1e1e" stroke-width="2" stroke-linecap="butt"/>
<line x1="818.6" y1="196.6" x2="827.3" y2="196.6" stroke="#1e1e1e" stroke-width="2" stroke-linecap="butt"/>
<line x1="905.5" y1="804.6" x2="905.5" y2="813.3" stroke="#1e1e1e" stroke-width="2" stroke-linecap="butt"/>
<text transform="translate(905.5 847.2) scale(1 1.015)" font-size="34.3" text-anchor="middle">Week</text>
<line x1="1062.5" y1="804.6" x2="1062.5" y2="813.3" stroke="#1e1e1e" stroke-width="2" stroke-linecap="butt"/>
<text transform="translate(1062.5 847.2) scale(1 1.015)" font-size="34.3" text-anchor="middle">Month</text>
<line x1="1218.7" y1="804.6" x2="1218.7" y2="813.3" stroke="#1e1e1e" stroke-width="2" stroke-linecap="butt"/>
<text transform="translate(1218.7 847.2) scale(1 1.015)" font-size="34.3" text-anchor="middle">Year</text>
<line x1="1375.5" y1="804.6" x2="1375.5" y2="813.3" stroke="#1e1e1e" stroke-width="2" stroke-linecap="butt"/>
<text transform="translate(1375.5 847.2) scale(1 1.015)" font-size="34.3" text-anchor="middle">3 Yrs</text>
<line x1="1532.1" y1="804.6" x2="1532.1" y2="813.3" stroke="#1e1e1e" stroke-width="2" stroke-linecap="butt"/>
<text transform="translate(1532.1 847.2) scale(1 1.015)" font-size="34.3" text-anchor="middle">5 Yrs</text>
<line x1="1688.7" y1="804.6" x2="1688.7" y2="813.3" stroke="#1e1e1e" stroke-width="2" stroke-linecap="butt"/>
<text transform="translate(1688.7 847.2) scale(1 1.015)" font-size="34.3" text-anchor="middle">10 Yrs</text>
<text transform="translate(1298.6 890) scale(1 1.015)" font-size="34.2" text-anchor="middle">Time Period</text>
<polyline points="905.5,224.8 1062.5,239 1218.7,244.2 1375.5,266.5 1532.1,289.2 1688.7,322" fill="none" stroke="#fbb817" stroke-width="3.6" stroke-linejoin="round"/>
<line x1="905.5" y1="210.4" x2="905.5" y2="238.5" stroke="#fbb817" stroke-width="3" stroke-linecap="butt"/>
<line x1="900.9" y1="210.4" x2="910.1" y2="210.4" stroke="#fbb817" stroke-width="3" stroke-linecap="butt"/>
<line x1="900.9" y1="238.5" x2="910.1" y2="238.5" stroke="#fbb817" stroke-width="3" stroke-linecap="butt"/>
<circle cx="905.5" cy="224.8" r="8.2" fill="#fbb817"/>
<line x1="1062.5" y1="222.3" x2="1062.5" y2="255.4" stroke="#fbb817" stroke-width="3" stroke-linecap="butt"/>
<line x1="1057.9" y1="222.3" x2="1067.1" y2="222.3" stroke="#fbb817" stroke-width="3" stroke-linecap="butt"/>
<line x1="1057.9" y1="255.4" x2="1067.1" y2="255.4" stroke="#fbb817" stroke-width="3" stroke-linecap="butt"/>
<circle cx="1062.5" cy="239" r="8.2" fill="#fbb817"/>
<line x1="1218.7" y1="227.3" x2="1218.7" y2="261.6" stroke="#fbb817" stroke-width="3" stroke-linecap="butt"/>
<line x1="1214.1" y1="227.3" x2="1223.3" y2="227.3" stroke="#fbb817" stroke-width="3" stroke-linecap="butt"/>
<line x1="1214.1" y1="261.6" x2="1223.3" y2="261.6" stroke="#fbb817" stroke-width="3" stroke-linecap="butt"/>
<circle cx="1218.7" cy="244.2" r="8.2" fill="#fbb817"/>
<line x1="1375.5" y1="244.4" x2="1375.5" y2="287.2" stroke="#fbb817" stroke-width="3" stroke-linecap="butt"/>
<line x1="1370.9" y1="244.4" x2="1380.1" y2="244.4" stroke="#fbb817" stroke-width="3" stroke-linecap="butt"/>
<line x1="1370.9" y1="287.2" x2="1380.1" y2="287.2" stroke="#fbb817" stroke-width="3" stroke-linecap="butt"/>
<circle cx="1375.5" cy="266.5" r="8.2" fill="#fbb817"/>
<line x1="1532.1" y1="263.6" x2="1532.1" y2="315.8" stroke="#fbb817" stroke-width="3" stroke-linecap="butt"/>
<line x1="1527.5" y1="263.6" x2="1536.7" y2="263.6" stroke="#fbb817" stroke-width="3" stroke-linecap="butt"/>
<line x1="1527.5" y1="315.8" x2="1536.7" y2="315.8" stroke="#fbb817" stroke-width="3" stroke-linecap="butt"/>
<circle cx="1532.1" cy="289.2" r="8.2" fill="#fbb817"/>
<line x1="1688.7" y1="292.1" x2="1688.7" y2="351.8" stroke="#fbb817" stroke-width="3" stroke-linecap="butt"/>
<line x1="1684.1" y1="292.1" x2="1693.3" y2="292.1" stroke="#fbb817" stroke-width="3" stroke-linecap="butt"/>
<line x1="1684.1" y1="351.8" x2="1693.3" y2="351.8" stroke="#fbb817" stroke-width="3" stroke-linecap="butt"/>
<circle cx="1688.7" cy="322" r="8.2" fill="#fbb817"/>
<polyline points="905.5,256.6 1062.5,292.7 1218.7,311.3 1375.5,360 1532.1,382.9 1688.7,429.4" fill="none" stroke="#0c6487" stroke-width="3.6" stroke-linejoin="round"/>
<line x1="905.5" y1="236" x2="905.5" y2="277" stroke="#0c6487" stroke-width="3" stroke-linecap="butt"/>
<line x1="900.9" y1="236" x2="910.1" y2="236" stroke="#0c6487" stroke-width="3" stroke-linecap="butt"/>
<line x1="900.9" y1="277" x2="910.1" y2="277" stroke="#0c6487" stroke-width="3" stroke-linecap="butt"/>
<circle cx="905.5" cy="256.6" r="8.2" fill="#0c6487"/>
<line x1="1062.5" y1="268.3" x2="1062.5" y2="318" stroke="#0c6487" stroke-width="3" stroke-linecap="butt"/>
<line x1="1057.9" y1="268.3" x2="1067.1" y2="268.3" stroke="#0c6487" stroke-width="3" stroke-linecap="butt"/>
<line x1="1057.9" y1="318" x2="1067.1" y2="318" stroke="#0c6487" stroke-width="3" stroke-linecap="butt"/>
<circle cx="1062.5" cy="292.7" r="8.2" fill="#0c6487"/>
<line x1="1218.7" y1="286.4" x2="1218.7" y2="335.9" stroke="#0c6487" stroke-width="3" stroke-linecap="butt"/>
<line x1="1214.1" y1="286.4" x2="1223.3" y2="286.4" stroke="#0c6487" stroke-width="3" stroke-linecap="butt"/>
<line x1="1214.1" y1="335.9" x2="1223.3" y2="335.9" stroke="#0c6487" stroke-width="3" stroke-linecap="butt"/>
<circle cx="1218.7" cy="311.3" r="8.2" fill="#0c6487"/>
<line x1="1375.5" y1="331.2" x2="1375.5" y2="389.6" stroke="#0c6487" stroke-width="3" stroke-linecap="butt"/>
<line x1="1370.9" y1="331.2" x2="1380.1" y2="331.2" stroke="#0c6487" stroke-width="3" stroke-linecap="butt"/>
<line x1="1370.9" y1="389.6" x2="1380.1" y2="389.6" stroke="#0c6487" stroke-width="3" stroke-linecap="butt"/>
<circle cx="1375.5" cy="360" r="8.2" fill="#0c6487"/>
<line x1="1532.1" y1="353" x2="1532.1" y2="413.4" stroke="#0c6487" stroke-width="3" stroke-linecap="butt"/>
<line x1="1527.5" y1="353" x2="1536.7" y2="353" stroke="#0c6487" stroke-width="3" stroke-linecap="butt"/>
<line x1="1527.5" y1="413.4" x2="1536.7" y2="413.4" stroke="#0c6487" stroke-width="3" stroke-linecap="butt"/>
<circle cx="1532.1" cy="382.9" r="8.2" fill="#0c6487"/>
<line x1="1688.7" y1="397.8" x2="1688.7" y2="461.2" stroke="#0c6487" stroke-width="3" stroke-linecap="butt"/>
<line x1="1684.1" y1="397.8" x2="1693.3" y2="397.8" stroke="#0c6487" stroke-width="3" stroke-linecap="butt"/>
<line x1="1684.1" y1="461.2" x2="1693.3" y2="461.2" stroke="#0c6487" stroke-width="3" stroke-linecap="butt"/>
<circle cx="1688.7" cy="429.4" r="8.2" fill="#0c6487"/>
<line x1="980.5" y1="120" x2="1014" y2="120" stroke="#fbb817" stroke-width="3.6" stroke-linecap="butt"/>
<circle cx="997" cy="120" r="8" fill="#fbb817"/>
<text transform="translate(1016.5 131.3) scale(1 1.015)" font-size="34.8" text-anchor="start">Observer Rare</text>
<line x1="1309.5" y1="120" x2="1343" y2="120" stroke="#0c6487" stroke-width="3.6" stroke-linecap="butt"/>
<circle cx="1326" cy="120" r="8" fill="#0c6487"/>
<text transform="translate(1345.8 131.3) scale(1 1.015)" font-size="34.8" text-anchor="start">Observer Typical</text>
<path d="M281.5,1032.7 C281.7,1039.9 282.2,1065.3 282.9,1075.9 C283.5,1086.5 284.5,1088.6 285.4,1096.2 C286.2,1103.8 287.2,1111.7 288,1121.6 C288.8,1131.5 289.7,1145.7 290.1,1155.4 C290.5,1165.1 290.3,1172.3 290.6,1180 C290.9,1187.7 291.1,1194.2 292,1201.3 C292.9,1208.4 294.3,1215.8 296.3,1222.6 C298.3,1229.4 301.4,1235.8 304.1,1242.4 C306.8,1249 309.8,1255.7 312.6,1262.3 C315.4,1268.9 318.7,1275.8 321.1,1282.2 C323.5,1288.6 325.3,1295.2 326.8,1300.6 C328.3,1306 329.1,1308.9 330.3,1314.8 C331.5,1320.7 332.4,1329 333.9,1336.1 C335.4,1343.2 337.6,1350.3 339.5,1357.4 C341.4,1364.5 343.3,1371.6 345.2,1378.7 C347.1,1385.8 349,1392.9 350.9,1400 C352.8,1407.1 354.8,1415.1 356.6,1421.3 C358.5,1427.5 360.5,1432.7 362,1437 C363.5,1441.3 364.1,1442.9 365.5,1447 C366.9,1451.1 369.4,1456.6 370.6,1461.7 C371.8,1466.8 372.6,1472.2 372.9,1477.5 C373.1,1482.8 372.9,1487.5 372.1,1493.3 C371.3,1499.1 370.4,1505.7 368.2,1512.3 C366,1518.9 361.9,1526.3 358.7,1532.9 C355.5,1539.5 352.1,1545.8 349.2,1551.9 C346.3,1558 343.4,1564.4 341.3,1569.4 C339.2,1574.4 338.6,1576.7 336.5,1582 C334.4,1587.3 331.5,1594.9 328.6,1601 C325.7,1607.1 322.8,1612.9 319.1,1618.4 C315.4,1624 310.4,1629.3 306.4,1634.3 C302.4,1639.3 298.5,1644 295.3,1648.5 C292.1,1653 289.4,1656.7 287.4,1661.2 C285.4,1665.7 284.4,1670.4 283.5,1675.4 C282.6,1680.4 282.2,1685.2 281.9,1691.3 C281.6,1697.4 281.6,1708.5 281.5,1711.9 L281.5,1711.9 L281.5,1032.7 Z" fill="#d6e4eb" stroke="none"/>
<path d="M602.9,1140.5 C603,1146.6 602.8,1167.1 603.2,1177.3 C603.6,1187.5 604.3,1192.3 605.3,1201.9 C606.3,1211.5 608.6,1223.8 609.4,1234.7 C610.2,1245.6 610,1256.5 610.2,1267.4 C610.4,1278.3 610,1290.6 610.4,1300.2 C610.8,1309.8 611.5,1316.6 612.7,1324.8 C613.9,1333 615.7,1341.2 617.6,1349.4 C619.5,1357.6 622.3,1367.1 624.2,1373.9 C626.1,1380.7 627.1,1384.3 628.8,1390 C630.5,1395.7 632.4,1402 634.2,1408 C636,1414 637.2,1420 639.6,1426 C642,1432 645,1438.1 648.6,1444.1 C652.2,1450.1 656.5,1456.4 661.3,1462.1 C666.1,1467.8 671.8,1472.9 677.5,1478.3 C683.2,1483.7 690.4,1489.4 695.5,1494.5 C700.6,1499.6 705,1504.1 708.1,1508.9 C711.2,1513.7 713.2,1518.2 714.4,1523.3 C715.6,1528.4 715,1534.1 715.3,1539.5 C715.6,1544.9 715,1550.7 716.2,1555.8 C717.4,1560.9 719.4,1565.4 722.5,1570.2 C725.6,1575 731.2,1580.1 735.1,1584.6 C739,1589.1 744,1593.3 745.9,1597.2 C747.8,1601.1 748,1604.4 746.8,1608 C745.6,1611.6 743.7,1614.9 738.7,1618.8 C733.8,1622.7 725.2,1627.5 717.1,1631.4 C709,1635.3 699.1,1638.6 690.1,1642.2 C681.1,1645.8 672.1,1649.2 663.1,1653.1 C654.1,1657 643.5,1661.5 636,1665.7 C628.5,1669.9 622.5,1673.8 618,1678.3 C613.5,1682.8 611.2,1688.6 609,1692.7 C606.8,1696.8 605.5,1700.6 604.5,1703 C603.5,1705.4 603.2,1706.4 602.9,1707.1 L603,1707.1 L603,1140.5 Z" fill="#fef0d8" stroke="none"/>
<g fill="#00668a" fill-opacity="0.5" stroke="#00668a" stroke-opacity="0.3" stroke-width="0.7">
<circle cx="276.1" cy="1129.2" r="6.6"/>
<circle cx="293.9" cy="1129.2" r="6.6"/>
<circle cx="264.3" cy="1149.5" r="6.6"/>
<circle cx="290.5" cy="1149.5" r="6.6"/>
<circle cx="290.5" cy="1149.5" r="6.6"/>
<circle cx="287.1" cy="1169.8" r="6.6"/>
<circle cx="290.1" cy="1190" r="6.6"/>
<circle cx="266" cy="1210.3" r="6.6"/>
<circle cx="251.6" cy="1230.6" r="6.6"/>
<circle cx="267.3" cy="1230.6" r="6.6"/>
<circle cx="302.3" cy="1230.6" r="6.6"/>
<circle cx="265" cy="1250.9" r="6.6"/>
<circle cx="275.3" cy="1250.9" r="6.6"/>
<circle cx="282" cy="1250.9" r="6.6"/>
<circle cx="304.4" cy="1250.9" r="6.6"/>
<circle cx="256.1" cy="1271.2" r="6.6"/>
<circle cx="268.7" cy="1271.2" r="6.6"/>
<circle cx="268.7" cy="1271.2" r="6.6"/>
<circle cx="283.6" cy="1271.2" r="6.6"/>
<circle cx="288.8" cy="1271.2" r="6.6"/>
<circle cx="290.5" cy="1271.2" r="6.6"/>
<circle cx="290.5" cy="1271.2" r="6.6"/>
<circle cx="301.4" cy="1271.2" r="6.6"/>
<circle cx="251.5" cy="1291.5" r="6.6"/>
<circle cx="254.9" cy="1291.5" r="6.6"/>
<circle cx="256.6" cy="1291.5" r="6.6"/>
<circle cx="264.7" cy="1291.5" r="6.6"/>
<circle cx="265.8" cy="1291.5" r="6.6"/>
<circle cx="305" cy="1291.5" r="6.6"/>
<circle cx="309" cy="1291.5" r="6.6"/>
<circle cx="310.5" cy="1291.5" r="6.6"/>
<circle cx="311.7" cy="1291.5" r="6.6"/>
<circle cx="253.2" cy="1311.8" r="6.6"/>
<circle cx="255.5" cy="1311.8" r="6.6"/>
<circle cx="258.4" cy="1311.8" r="6.6"/>
<circle cx="260" cy="1311.8" r="6.6"/>
<circle cx="263" cy="1311.8" r="6.6"/>
<circle cx="265.8" cy="1311.8" r="6.6"/>
<circle cx="268.7" cy="1311.8" r="6.6"/>
<circle cx="272.1" cy="1311.8" r="6.6"/>
<circle cx="277.3" cy="1311.8" r="6.6"/>
<circle cx="281.9" cy="1311.8" r="6.6"/>
<circle cx="285.9" cy="1311.8" r="6.6"/>
<circle cx="296" cy="1311.8" r="6.6"/>
<circle cx="297.5" cy="1311.8" r="6.6"/>
<circle cx="256.6" cy="1332" r="6.6"/>
<circle cx="260.1" cy="1332" r="6.6"/>
<circle cx="265.2" cy="1332" r="6.6"/>
<circle cx="269.8" cy="1332" r="6.6"/>
<circle cx="273.8" cy="1332" r="6.6"/>
<circle cx="297" cy="1332" r="6.6"/>
<circle cx="299.7" cy="1332" r="6.6"/>
<circle cx="302" cy="1332" r="6.6"/>
<circle cx="303.1" cy="1332" r="6.6"/>
<circle cx="304.3" cy="1332" r="6.6"/>
<circle cx="306" cy="1332" r="6.6"/>
<circle cx="308.8" cy="1332" r="6.6"/>
<circle cx="254.3" cy="1352.3" r="6.6"/>
<circle cx="262" cy="1352.3" r="6.6"/>
<circle cx="264" cy="1352.3" r="6.6"/>
<circle cx="268" cy="1352.3" r="6.6"/>
<circle cx="269.8" cy="1352.3" r="6.6"/>
<circle cx="271" cy="1352.3" r="6.6"/>
<circle cx="272.7" cy="1352.3" r="6.6"/>
<circle cx="274.4" cy="1352.3" r="6.6"/>
<circle cx="253.2" cy="1372.6" r="6.6"/>
<circle cx="255.5" cy="1372.6" r="6.6"/>
<circle cx="265.2" cy="1372.6" r="6.6"/>
<circle cx="288.8" cy="1372.6" r="6.6"/>
<circle cx="292" cy="1372.6" r="6.6"/>
<circle cx="294.5" cy="1372.6" r="6.6"/>
<circle cx="296" cy="1372.6" r="6.6"/>
<circle cx="297.4" cy="1372.6" r="6.6"/>
<circle cx="299" cy="1372.6" r="6.6"/>
<circle cx="300.2" cy="1372.6" r="6.6"/>
<circle cx="302" cy="1372.6" r="6.6"/>
<circle cx="303.1" cy="1372.6" r="6.6"/>
<circle cx="306" cy="1372.6" r="6.6"/>
<circle cx="311.7" cy="1372.6" r="6.6"/>
<circle cx="250.3" cy="1392.9" r="6.6"/>
<circle cx="252" cy="1392.9" r="6.6"/>
<circle cx="258.9" cy="1392.9" r="6.6"/>
<circle cx="263" cy="1392.9" r="6.6"/>
<circle cx="265" cy="1392.9" r="6.6"/>
<circle cx="267" cy="1392.9" r="6.6"/>
<circle cx="269.8" cy="1392.9" r="6.6"/>
<circle cx="274.4" cy="1392.9" r="6.6"/>
<circle cx="280.2" cy="1392.9" r="6.6"/>
<circle cx="283.6" cy="1392.9" r="6.6"/>
<circle cx="286" cy="1392.9" r="6.6"/>
<circle cx="288.2" cy="1392.9" r="6.6"/>
<circle cx="293.4" cy="1392.9" r="6.6"/>
<circle cx="311.7" cy="1392.9" r="6.6"/>
<circle cx="262.4" cy="1413.2" r="6.6"/>
<circle cx="276.7" cy="1413.2" r="6.6"/>
<circle cx="281.3" cy="1413.2" r="6.6"/>
<circle cx="285.9" cy="1413.2" r="6.6"/>
<circle cx="289.9" cy="1413.2" r="6.6"/>
<circle cx="296" cy="1413.2" r="6.6"/>
<circle cx="300.2" cy="1413.2" r="6.6"/>
<circle cx="303" cy="1413.2" r="6.6"/>
<circle cx="304.3" cy="1413.2" r="6.6"/>
<circle cx="306.6" cy="1413.2" r="6.6"/>
<circle cx="308.8" cy="1413.2" r="6.6"/>
<circle cx="312.3" cy="1413.2" r="6.6"/>
<circle cx="252.6" cy="1433.5" r="6.6"/>
<circle cx="256.6" cy="1433.5" r="6.6"/>
<circle cx="260.1" cy="1433.5" r="6.6"/>
<circle cx="264" cy="1433.5" r="6.6"/>
<circle cx="265.8" cy="1433.5" r="6.6"/>
<circle cx="268" cy="1433.5" r="6.6"/>
<circle cx="269.8" cy="1433.5" r="6.6"/>
<circle cx="273" cy="1433.5" r="6.6"/>
<circle cx="283" cy="1433.5" r="6.6"/>
<circle cx="292.8" cy="1433.5" r="6.6"/>
<circle cx="294.5" cy="1433.5" r="6.6"/>
<circle cx="296.2" cy="1433.5" r="6.6"/>
<circle cx="304.5" cy="1433.5" r="6.6"/>
<circle cx="306" cy="1433.5" r="6.6"/>
<circle cx="308.8" cy="1433.5" r="6.6"/>
<circle cx="249.8" cy="1453.7" r="6.6"/>
<circle cx="252.6" cy="1453.7" r="6.6"/>
<circle cx="256.6" cy="1453.7" r="6.6"/>
<circle cx="261.8" cy="1453.7" r="6.6"/>
<circle cx="264" cy="1453.7" r="6.6"/>
<circle cx="265.8" cy="1453.7" r="6.6"/>
<circle cx="268" cy="1453.7" r="6.6"/>
<circle cx="269.8" cy="1453.7" r="6.6"/>
<circle cx="274.4" cy="1453.7" r="6.6"/>
<circle cx="277" cy="1453.7" r="6.6"/>
<circle cx="280.2" cy="1453.7" r="6.6"/>
<circle cx="283" cy="1453.7" r="6.6"/>
<circle cx="285.9" cy="1453.7" r="6.6"/>
<circle cx="289.3" cy="1453.7" r="6.6"/>
<circle cx="300.8" cy="1453.7" r="6.6"/>
<circle cx="250.9" cy="1474" r="6.6"/>
<circle cx="250.9" cy="1474" r="6.6"/>
<circle cx="264" cy="1474" r="6.6"/>
<circle cx="269.8" cy="1474" r="6.6"/>
<circle cx="271.5" cy="1474" r="6.6"/>
<circle cx="273.3" cy="1474" r="6.6"/>
<circle cx="276.7" cy="1474" r="6.6"/>
<circle cx="278.5" cy="1474" r="6.6"/>
<circle cx="280.2" cy="1474" r="6.6"/>
<circle cx="283.6" cy="1474" r="6.6"/>
<circle cx="288.8" cy="1474" r="6.6"/>
<circle cx="295.7" cy="1474" r="6.6"/>
<circle cx="303" cy="1474" r="6.6"/>
<circle cx="306" cy="1474" r="6.6"/>
<circle cx="307.5" cy="1474" r="6.6"/>
<circle cx="308.8" cy="1474" r="6.6"/>
<circle cx="252" cy="1494.3" r="6.6"/>
<circle cx="252" cy="1494.3" r="6.6"/>
<circle cx="262" cy="1494.3" r="6.6"/>
<circle cx="265.2" cy="1494.3" r="6.6"/>
<circle cx="267.5" cy="1494.3" r="6.6"/>
<circle cx="269.8" cy="1494.3" r="6.6"/>
<circle cx="278" cy="1494.3" r="6.6"/>
<circle cx="280.2" cy="1494.3" r="6.6"/>
<circle cx="283.6" cy="1494.3" r="6.6"/>
<circle cx="290" cy="1494.3" r="6.6"/>
<circle cx="296" cy="1494.3" r="6.6"/>
<circle cx="297.4" cy="1494.3" r="6.6"/>
<circle cx="300.2" cy="1494.3" r="6.6"/>
<circle cx="301.5" cy="1494.3" r="6.6"/>
<circle cx="303.1" cy="1494.3" r="6.6"/>
<circle cx="249.2" cy="1514.6" r="6.6"/>
<circle cx="253" cy="1514.6" r="6.6"/>
<circle cx="256.1" cy="1514.6" r="6.6"/>
<circle cx="258.9" cy="1514.6" r="6.6"/>
<circle cx="262" cy="1514.6" r="6.6"/>
<circle cx="264.1" cy="1514.6" r="6.6"/>
<circle cx="266" cy="1514.6" r="6.6"/>
<circle cx="268.7" cy="1514.6" r="6.6"/>
<circle cx="272.1" cy="1514.6" r="6.6"/>
<circle cx="275.6" cy="1514.6" r="6.6"/>
<circle cx="285.9" cy="1514.6" r="6.6"/>
<circle cx="291.6" cy="1514.6" r="6.6"/>
<circle cx="295" cy="1514.6" r="6.6"/>
<circle cx="298" cy="1514.6" r="6.6"/>
<circle cx="299.7" cy="1514.6" r="6.6"/>
<circle cx="303.1" cy="1514.6" r="6.6"/>
<circle cx="258.4" cy="1534.9" r="6.6"/>
<circle cx="263" cy="1534.9" r="6.6"/>
<circle cx="264.5" cy="1534.9" r="6.6"/>
<circle cx="266.4" cy="1534.9" r="6.6"/>
<circle cx="272.1" cy="1534.9" r="6.6"/>
<circle cx="276.7" cy="1534.9" r="6.6"/>
<circle cx="280" cy="1534.9" r="6.6"/>
<circle cx="293.4" cy="1534.9" r="6.6"/>
<circle cx="297" cy="1534.9" r="6.6"/>
<circle cx="300.2" cy="1534.9" r="6.6"/>
<circle cx="302" cy="1534.9" r="6.6"/>
<circle cx="303.7" cy="1534.9" r="6.6"/>
<circle cx="306" cy="1534.9" r="6.6"/>
<circle cx="308" cy="1534.9" r="6.6"/>
<circle cx="311.7" cy="1534.9" r="6.6"/>
<circle cx="260.1" cy="1555.2" r="6.6"/>
<circle cx="264.7" cy="1555.2" r="6.6"/>
<circle cx="266" cy="1555.2" r="6.6"/>
<circle cx="268.1" cy="1555.2" r="6.6"/>
<circle cx="272.1" cy="1555.2" r="6.6"/>
<circle cx="285" cy="1555.2" r="6.6"/>
<circle cx="287" cy="1555.2" r="6.6"/>
<circle cx="291.6" cy="1555.2" r="6.6"/>
<circle cx="252.2" cy="1575.4" r="6.6"/>
<circle cx="263.4" cy="1575.4" r="6.6"/>
<circle cx="265" cy="1575.4" r="6.6"/>
<circle cx="266.4" cy="1575.4" r="6.6"/>
<circle cx="269.5" cy="1575.4" r="6.6"/>
<circle cx="271" cy="1575.4" r="6.6"/>
<circle cx="272.5" cy="1575.4" r="6.6"/>
<circle cx="275.6" cy="1575.4" r="6.6"/>
<circle cx="296.4" cy="1575.4" r="6.6"/>
<circle cx="303.6" cy="1575.4" r="6.6"/>
<circle cx="305" cy="1575.4" r="6.6"/>
<circle cx="306.1" cy="1575.4" r="6.6"/>
<circle cx="307.5" cy="1575.4" r="6.6"/>
<circle cx="308.6" cy="1575.4" r="6.6"/>
<circle cx="311.2" cy="1575.4" r="6.6"/>
<circle cx="314.7" cy="1575.4" r="6.6"/>
<circle cx="250.2" cy="1595.7" r="6.6"/>
<circle cx="253.2" cy="1595.7" r="6.6"/>
<circle cx="259.8" cy="1595.7" r="6.6"/>
<circle cx="263.4" cy="1595.7" r="6.6"/>
<circle cx="266.9" cy="1595.7" r="6.6"/>
<circle cx="287.8" cy="1595.7" r="6.6"/>
<circle cx="290.8" cy="1595.7" r="6.6"/>
<circle cx="299.5" cy="1595.7" r="6.6"/>
<circle cx="301" cy="1595.7" r="6.6"/>
<circle cx="312.2" cy="1595.7" r="6.6"/>
<circle cx="313.2" cy="1595.7" r="6.6"/>
<circle cx="250.2" cy="1616" r="6.6"/>
<circle cx="250.2" cy="1616" r="6.6"/>
<circle cx="251" cy="1616" r="6.6"/>
<circle cx="266.4" cy="1616" r="6.6"/>
<circle cx="271" cy="1616" r="6.6"/>
<circle cx="273" cy="1616" r="6.6"/>
<circle cx="275.6" cy="1616" r="6.6"/>
<circle cx="278.6" cy="1616" r="6.6"/>
<circle cx="306.6" cy="1616" r="6.6"/>
<circle cx="307.6" cy="1616" r="6.6"/>
<circle cx="313.7" cy="1616" r="6.6"/>
</g>
<g fill="#fbb713" fill-opacity="0.5" stroke="#fbb713" stroke-opacity="0.3" stroke-width="0.7">
<circle cx="592.2" cy="1230.6" r="6.6"/>
<circle cx="573.4" cy="1250.9" r="6.6"/>
<circle cx="630.7" cy="1291.5" r="6.6"/>
<circle cx="589.4" cy="1332" r="6.6"/>
<circle cx="611.9" cy="1352.3" r="6.6"/>
<circle cx="629.4" cy="1352.3" r="6.6"/>
<circle cx="582.9" cy="1372.6" r="6.6"/>
<circle cx="577" cy="1392.9" r="6.6"/>
<circle cx="614.7" cy="1392.9" r="6.6"/>
<circle cx="601.2" cy="1413.2" r="6.6"/>
<circle cx="612.4" cy="1413.2" r="6.6"/>
<circle cx="627.4" cy="1413.2" r="6.6"/>
<circle cx="633.2" cy="1413.2" r="6.6"/>
<circle cx="615.5" cy="1433.5" r="6.6"/>
<circle cx="584.9" cy="1453.7" r="6.6"/>
<circle cx="589.2" cy="1453.7" r="6.6"/>
<circle cx="604.1" cy="1453.7" r="6.6"/>
<circle cx="632.1" cy="1453.7" r="6.6"/>
<circle cx="579.1" cy="1474" r="6.6"/>
<circle cx="628.6" cy="1474" r="6.6"/>
<circle cx="632.9" cy="1474" r="6.6"/>
<circle cx="574.3" cy="1494.3" r="6.6"/>
<circle cx="583" cy="1494.3" r="6.6"/>
<circle cx="603.6" cy="1494.3" r="6.6"/>
<circle cx="609.3" cy="1494.3" r="6.6"/>
<circle cx="615.7" cy="1494.3" r="6.6"/>
<circle cx="619" cy="1494.3" r="6.6"/>
<circle cx="621.4" cy="1494.3" r="6.6"/>
<circle cx="624" cy="1494.3" r="6.6"/>
<circle cx="626.6" cy="1494.3" r="6.6"/>
<circle cx="571.5" cy="1514.6" r="6.6"/>
<circle cx="581.8" cy="1514.6" r="6.6"/>
<circle cx="589.8" cy="1514.6" r="6.6"/>
<circle cx="603.6" cy="1514.6" r="6.6"/>
<circle cx="616.8" cy="1514.6" r="6.6"/>
<circle cx="624" cy="1514.6" r="6.6"/>
<circle cx="627.7" cy="1514.6" r="6.6"/>
<circle cx="629" cy="1514.6" r="6.6"/>
<circle cx="630.6" cy="1514.6" r="6.6"/>
<circle cx="633" cy="1514.6" r="6.6"/>
<circle cx="574" cy="1534.9" r="6.6"/>
<circle cx="576.6" cy="1534.9" r="6.6"/>
<circle cx="579" cy="1534.9" r="6.6"/>
<circle cx="581.8" cy="1534.9" r="6.6"/>
<circle cx="584" cy="1534.9" r="6.6"/>
<circle cx="585.8" cy="1534.9" r="6.6"/>
<circle cx="588" cy="1534.9" r="6.6"/>
<circle cx="590.4" cy="1534.9" r="6.6"/>
<circle cx="593" cy="1534.9" r="6.6"/>
<circle cx="596" cy="1534.9" r="6.6"/>
<circle cx="611" cy="1534.9" r="6.6"/>
<circle cx="615.1" cy="1534.9" r="6.6"/>
<circle cx="618" cy="1534.9" r="6.6"/>
<circle cx="620.8" cy="1534.9" r="6.6"/>
<circle cx="622" cy="1534.9" r="6.6"/>
<circle cx="624.3" cy="1534.9" r="6.6"/>
<circle cx="627.7" cy="1534.9" r="6.6"/>
<circle cx="573.8" cy="1555.2" r="6.6"/>
<circle cx="577.2" cy="1555.2" r="6.6"/>
<circle cx="600" cy="1555.2" r="6.6"/>
<circle cx="602.5" cy="1555.2" r="6.6"/>
<circle cx="604" cy="1555.2" r="6.6"/>
<circle cx="605.9" cy="1555.2" r="6.6"/>
<circle cx="609.3" cy="1555.2" r="6.6"/>
<circle cx="613.4" cy="1555.2" r="6.6"/>
<circle cx="632.9" cy="1555.2" r="6.6"/>
<circle cx="632.9" cy="1555.2" r="6.6"/>
<circle cx="571.5" cy="1575.4" r="6.6"/>
<circle cx="579.5" cy="1575.4" r="6.6"/>
<circle cx="627.1" cy="1575.4" r="6.6"/>
<circle cx="583.9" cy="1595.7" r="6.6"/>
<circle cx="589.5" cy="1595.7" r="6.6"/>
<circle cx="589.5" cy="1595.7" r="6.6"/>
<circle cx="589.5" cy="1595.7" r="6.6"/>
<circle cx="610.8" cy="1595.7" r="6.6"/>
<circle cx="617" cy="1595.7" r="6.6"/>
<circle cx="619" cy="1595.7" r="6.6"/>
<circle cx="621" cy="1595.7" r="6.6"/>
<circle cx="623.5" cy="1595.7" r="6.6"/>
<circle cx="625" cy="1595.7" r="6.6"/>
<circle cx="627.1" cy="1595.7" r="6.6"/>
<circle cx="634.7" cy="1595.7" r="6.6"/>
<circle cx="574.2" cy="1616" r="6.6"/>
<circle cx="574.2" cy="1616" r="6.6"/>
<circle cx="574.2" cy="1616" r="6.6"/>
<circle cx="579.3" cy="1616" r="6.6"/>
<circle cx="579.3" cy="1616" r="6.6"/>
<circle cx="579.3" cy="1616" r="6.6"/>
<circle cx="584.4" cy="1616" r="6.6"/>
<circle cx="584.4" cy="1616" r="6.6"/>
<circle cx="589.5" cy="1616" r="6.6"/>
<circle cx="589.5" cy="1616" r="6.6"/>
<circle cx="594.6" cy="1616" r="6.6"/>
<circle cx="594.6" cy="1616" r="6.6"/>
<circle cx="594.6" cy="1616" r="6.6"/>
<circle cx="599.7" cy="1616" r="6.6"/>
<circle cx="599.7" cy="1616" r="6.6"/>
<circle cx="599.7" cy="1616" r="6.6"/>
<circle cx="604.7" cy="1616" r="6.6"/>
<circle cx="604.7" cy="1616" r="6.6"/>
<circle cx="604.7" cy="1616" r="6.6"/>
<circle cx="609.8" cy="1616" r="6.6"/>
<circle cx="609.8" cy="1616" r="6.6"/>
<circle cx="609.8" cy="1616" r="6.6"/>
<circle cx="614.9" cy="1616" r="6.6"/>
<circle cx="614.9" cy="1616" r="6.6"/>
<circle cx="614.9" cy="1616" r="6.6"/>
<circle cx="620" cy="1616" r="6.6"/>
<circle cx="620" cy="1616" r="6.6"/>
<circle cx="624" cy="1616" r="6.6"/>
<circle cx="628.6" cy="1616" r="6.6"/>
<circle cx="633.2" cy="1616" r="6.6"/>
</g>
<path d="M281.5,1032.7 C281.7,1039.9 282.2,1065.3 282.9,1075.9 C283.5,1086.5 284.5,1088.6 285.4,1096.2 C286.2,1103.8 287.2,1111.7 288,1121.6 C288.8,1131.5 289.7,1145.7 290.1,1155.4 C290.5,1165.1 290.3,1172.3 290.6,1180 C290.9,1187.7 291.1,1194.2 292,1201.3 C292.9,1208.4 294.3,1215.8 296.3,1222.6 C298.3,1229.4 301.4,1235.8 304.1,1242.4 C306.8,1249 309.8,1255.7 312.6,1262.3 C315.4,1268.9 318.7,1275.8 321.1,1282.2 C323.5,1288.6 325.3,1295.2 326.8,1300.6 C328.3,1306 329.1,1308.9 330.3,1314.8 C331.5,1320.7 332.4,1329 333.9,1336.1 C335.4,1343.2 337.6,1350.3 339.5,1357.4 C341.4,1364.5 343.3,1371.6 345.2,1378.7 C347.1,1385.8 349,1392.9 350.9,1400 C352.8,1407.1 354.8,1415.1 356.6,1421.3 C358.5,1427.5 360.5,1432.7 362,1437 C363.5,1441.3 364.1,1442.9 365.5,1447 C366.9,1451.1 369.4,1456.6 370.6,1461.7 C371.8,1466.8 372.6,1472.2 372.9,1477.5 C373.1,1482.8 372.9,1487.5 372.1,1493.3 C371.3,1499.1 370.4,1505.7 368.2,1512.3 C366,1518.9 361.9,1526.3 358.7,1532.9 C355.5,1539.5 352.1,1545.8 349.2,1551.9 C346.3,1558 343.4,1564.4 341.3,1569.4 C339.2,1574.4 338.6,1576.7 336.5,1582 C334.4,1587.3 331.5,1594.9 328.6,1601 C325.7,1607.1 322.8,1612.9 319.1,1618.4 C315.4,1624 310.4,1629.3 306.4,1634.3 C302.4,1639.3 298.5,1644 295.3,1648.5 C292.1,1653 289.4,1656.7 287.4,1661.2 C285.4,1665.7 284.4,1670.4 283.5,1675.4 C282.6,1680.4 282.2,1685.2 281.9,1691.3 C281.6,1697.4 281.6,1708.5 281.5,1711.9" fill="none" stroke="#3e89a6" stroke-width="1.8"/>
<line x1="281.5" y1="1032.7" x2="281.5" y2="1711.9" stroke="#3e89a6" stroke-width="1.8" stroke-linecap="butt"/>
<path d="M602.9,1140.5 C603,1146.6 602.8,1167.1 603.2,1177.3 C603.6,1187.5 604.3,1192.3 605.3,1201.9 C606.3,1211.5 608.6,1223.8 609.4,1234.7 C610.2,1245.6 610,1256.5 610.2,1267.4 C610.4,1278.3 610,1290.6 610.4,1300.2 C610.8,1309.8 611.5,1316.6 612.7,1324.8 C613.9,1333 615.7,1341.2 617.6,1349.4 C619.5,1357.6 622.3,1367.1 624.2,1373.9 C626.1,1380.7 627.1,1384.3 628.8,1390 C630.5,1395.7 632.4,1402 634.2,1408 C636,1414 637.2,1420 639.6,1426 C642,1432 645,1438.1 648.6,1444.1 C652.2,1450.1 656.5,1456.4 661.3,1462.1 C666.1,1467.8 671.8,1472.9 677.5,1478.3 C683.2,1483.7 690.4,1489.4 695.5,1494.5 C700.6,1499.6 705,1504.1 708.1,1508.9 C711.2,1513.7 713.2,1518.2 714.4,1523.3 C715.6,1528.4 715,1534.1 715.3,1539.5 C715.6,1544.9 715,1550.7 716.2,1555.8 C717.4,1560.9 719.4,1565.4 722.5,1570.2 C725.6,1575 731.2,1580.1 735.1,1584.6 C739,1589.1 744,1593.3 745.9,1597.2 C747.8,1601.1 748,1604.4 746.8,1608 C745.6,1611.6 743.7,1614.9 738.7,1618.8 C733.8,1622.7 725.2,1627.5 717.1,1631.4 C709,1635.3 699.1,1638.6 690.1,1642.2 C681.1,1645.8 672.1,1649.2 663.1,1653.1 C654.1,1657 643.5,1661.5 636,1665.7 C628.5,1669.9 622.5,1673.8 618,1678.3 C613.5,1682.8 611.2,1688.6 609,1692.7 C606.8,1696.8 605.5,1700.6 604.5,1703 C603.5,1705.4 603.2,1706.4 602.9,1707.1" fill="none" stroke="#fbbe2e" stroke-width="1.8"/>
<line x1="603" y1="1140.5" x2="603" y2="1707.1" stroke="#fbbe2e" stroke-width="1.8" stroke-linecap="butt"/>
<path d="M169.1,1372.6 L233.3,1372.6 L233.3,1439.1 L217.8,1453.7 L233.3,1467.8 L233.3,1514.6 L169.1,1514.6 L169.1,1467.8 L184.6,1453.7 L169.1,1439.1 Z" fill="#fff" stroke="#000" stroke-width="2.6" stroke-linejoin="miter"/>
<line x1="184.6" y1="1453.7" x2="217.8" y2="1453.7" stroke="#000" stroke-width="4.5" stroke-linecap="butt"/>
<line x1="201.2" y1="1169.8" x2="201.2" y2="1372.6" stroke="#000" stroke-width="2.6" stroke-linecap="butt"/>
<line x1="201.2" y1="1514.6" x2="201.2" y2="1616" stroke="#000" stroke-width="2.6" stroke-linecap="butt"/>
<circle cx="201.2" cy="1129.2" r="3.6" fill="#000"/>
<circle cx="201.2" cy="1149.5" r="3.6" fill="#000"/>
<line x1="281.4" y1="1425" x2="281.4" y2="1454.7" stroke="#000" stroke-width="2.8" stroke-linecap="butt"/>
<line x1="265.9" y1="1425" x2="296.9" y2="1425" stroke="#000" stroke-width="3.2" stroke-linecap="butt"/>
<line x1="265.9" y1="1454.7" x2="296.9" y2="1454.7" stroke="#000" stroke-width="3.2" stroke-linecap="butt"/>
<circle cx="281.4" cy="1439.8" r="6.9" fill="#000"/>
<path d="M500.1,1494.3 L545.5,1494.3 L545.5,1516.8 L535.1,1534.9 L545.5,1553 L545.5,1616 L500.1,1616 L500.1,1553 L510.6,1534.9 L500.1,1516.8 Z" fill="#fff" stroke="#000" stroke-width="2.6" stroke-linejoin="miter"/>
<line x1="510.6" y1="1534.9" x2="535.1" y2="1534.9" stroke="#000" stroke-width="4.5" stroke-linecap="butt"/>
<line x1="522.8" y1="1332" x2="522.8" y2="1494.3" stroke="#000" stroke-width="2.6" stroke-linecap="butt"/>
<circle cx="522.8" cy="1230.6" r="3.6" fill="#000"/>
<circle cx="522.8" cy="1250.9" r="3.6" fill="#000"/>
<circle cx="522.8" cy="1291.5" r="3.6" fill="#000"/>
<line x1="603.2" y1="1518.5" x2="603.2" y2="1550.3" stroke="#000" stroke-width="2.8" stroke-linecap="butt"/>
<line x1="587.5" y1="1518.5" x2="618.9" y2="1518.5" stroke="#000" stroke-width="3.2" stroke-linecap="butt"/>
<line x1="587.5" y1="1550.3" x2="618.9" y2="1550.3" stroke="#000" stroke-width="3.2" stroke-linecap="butt"/>
<circle cx="603.2" cy="1534.2" r="6.9" fill="#000"/>
<rect x="89.3" y="1008.2" width="705.5" height="728.8" fill="none" stroke="#1e1e1e" stroke-width="2.2"/>
<line x1="78.8" y1="1616" x2="89.3" y2="1616" stroke="#1e1e1e" stroke-width="2" stroke-linecap="butt"/>
<text transform="translate(75 1627.8) scale(1 1.045)" font-size="34" text-anchor="end">1</text>
<line x1="78.8" y1="1494.3" x2="89.3" y2="1494.3" stroke="#1e1e1e" stroke-width="2" stroke-linecap="butt"/>
<text transform="translate(75 1506.1) scale(1 1.045)" font-size="34" text-anchor="end">2</text>
<line x1="78.8" y1="1372.6" x2="89.3" y2="1372.6" stroke="#1e1e1e" stroke-width="2" stroke-linecap="butt"/>
<text transform="translate(75 1384.4) scale(1 1.045)" font-size="34" text-anchor="end">3</text>
<line x1="78.8" y1="1250.9" x2="89.3" y2="1250.9" stroke="#1e1e1e" stroke-width="2" stroke-linecap="butt"/>
<text transform="translate(75 1262.7) scale(1 1.045)" font-size="34" text-anchor="end">4</text>
<line x1="78.8" y1="1129.2" x2="89.3" y2="1129.2" stroke="#1e1e1e" stroke-width="2" stroke-linecap="butt"/>
<text transform="translate(75 1141) scale(1 1.045)" font-size="34" text-anchor="end">5</text>
<line x1="281.5" y1="1737" x2="281.5" y2="1747.5" stroke="#1e1e1e" stroke-width="2" stroke-linecap="butt"/>
<text transform="translate(281.5 1775.3) scale(1 1.015)" font-size="34.2" text-anchor="middle">Observer Typical</text>
<line x1="603" y1="1737" x2="603" y2="1747.5" stroke="#1e1e1e" stroke-width="2" stroke-linecap="butt"/>
<text transform="translate(603 1775.3) scale(1 1.015)" font-size="34.2" text-anchor="middle">Observer Rare</text>
<text transform="translate(46 1372.2) rotate(-90) scale(1 1.015)" font-size="34" text-anchor="middle">Mean Rating</text>
<line x1="818.5" y1="1008.2" x2="1768.3" y2="1008.2" stroke="#1e1e1e" stroke-width="2.2" stroke-linecap="butt"/>
<line x1="818.5" y1="1737" x2="1768.3" y2="1737" stroke="#1e1e1e" stroke-width="2.2" stroke-linecap="butt"/>
<line x1="827.2" y1="1007.1" x2="827.2" y2="1738.1" stroke="#1e1e1e" stroke-width="2.2" stroke-linecap="butt"/>
<line x1="1767.2" y1="1007.1" x2="1767.2" y2="1745.7" stroke="#1e1e1e" stroke-width="2.2" stroke-linecap="butt"/>
<line x1="818.5" y1="1616" x2="827.2" y2="1616" stroke="#1e1e1e" stroke-width="2" stroke-linecap="butt"/>
<line x1="818.5" y1="1494.3" x2="827.2" y2="1494.3" stroke="#1e1e1e" stroke-width="2" stroke-linecap="butt"/>
<line x1="818.5" y1="1372.6" x2="827.2" y2="1372.6" stroke="#1e1e1e" stroke-width="2" stroke-linecap="butt"/>
<line x1="818.5" y1="1250.9" x2="827.2" y2="1250.9" stroke="#1e1e1e" stroke-width="2" stroke-linecap="butt"/>
<line x1="818.5" y1="1129.2" x2="827.2" y2="1129.2" stroke="#1e1e1e" stroke-width="2" stroke-linecap="butt"/>
<line x1="905.5" y1="1737" x2="905.5" y2="1745.7" stroke="#1e1e1e" stroke-width="2" stroke-linecap="butt"/>
<text transform="translate(905.5 1780.4) scale(1 1.015)" font-size="34.3" text-anchor="middle">Week</text>
<line x1="1062.5" y1="1737" x2="1062.5" y2="1745.7" stroke="#1e1e1e" stroke-width="2" stroke-linecap="butt"/>
<text transform="translate(1062.5 1780.4) scale(1 1.015)" font-size="34.3" text-anchor="middle">Month</text>
<line x1="1218.7" y1="1737" x2="1218.7" y2="1745.7" stroke="#1e1e1e" stroke-width="2" stroke-linecap="butt"/>
<text transform="translate(1218.7 1780.4) scale(1 1.015)" font-size="34.3" text-anchor="middle">Year</text>
<line x1="1375.5" y1="1737" x2="1375.5" y2="1745.7" stroke="#1e1e1e" stroke-width="2" stroke-linecap="butt"/>
<text transform="translate(1375.5 1780.4) scale(1 1.015)" font-size="34.3" text-anchor="middle">3 Yrs</text>
<line x1="1532.1" y1="1737" x2="1532.1" y2="1745.7" stroke="#1e1e1e" stroke-width="2" stroke-linecap="butt"/>
<text transform="translate(1532.1 1780.4) scale(1 1.015)" font-size="34.3" text-anchor="middle">5 Yrs</text>
<line x1="1688.7" y1="1737" x2="1688.7" y2="1745.7" stroke="#1e1e1e" stroke-width="2" stroke-linecap="butt"/>
<text transform="translate(1688.7 1780.4) scale(1 1.015)" font-size="34.3" text-anchor="middle">10 Yrs</text>
<text transform="translate(1296.8 1826.2) scale(1 1.015)" font-size="34.2" text-anchor="middle">Time Period</text>
<polyline points="905.5,1561.2 1062.5,1540.8 1218.7,1550.8 1375.5,1541.8 1532.1,1524 1688.7,1489.6" fill="none" stroke="#fbb817" stroke-width="3.6" stroke-linejoin="round"/>
<line x1="905.5" y1="1538.1" x2="905.5" y2="1584.8" stroke="#fbb817" stroke-width="3" stroke-linecap="butt"/>
<line x1="900.9" y1="1538.1" x2="910.1" y2="1538.1" stroke="#fbb817" stroke-width="3" stroke-linecap="butt"/>
<line x1="900.9" y1="1584.8" x2="910.1" y2="1584.8" stroke="#fbb817" stroke-width="3" stroke-linecap="butt"/>
<circle cx="905.5" cy="1561.2" r="8.2" fill="#fbb817"/>
<line x1="1062.5" y1="1517" x2="1062.5" y2="1565.7" stroke="#fbb817" stroke-width="3" stroke-linecap="butt"/>
<line x1="1057.9" y1="1517" x2="1067.1" y2="1517" stroke="#fbb817" stroke-width="3" stroke-linecap="butt"/>
<line x1="1057.9" y1="1565.7" x2="1067.1" y2="1565.7" stroke="#fbb817" stroke-width="3" stroke-linecap="butt"/>
<circle cx="1062.5" cy="1540.8" r="8.2" fill="#fbb817"/>
<line x1="1218.7" y1="1529.4" x2="1218.7" y2="1572.9" stroke="#fbb817" stroke-width="3" stroke-linecap="butt"/>
<line x1="1214.1" y1="1529.4" x2="1223.3" y2="1529.4" stroke="#fbb817" stroke-width="3" stroke-linecap="butt"/>
<line x1="1214.1" y1="1572.9" x2="1223.3" y2="1572.9" stroke="#fbb817" stroke-width="3" stroke-linecap="butt"/>
<circle cx="1218.7" cy="1550.8" r="8.2" fill="#fbb817"/>
<line x1="1375.5" y1="1519" x2="1375.5" y2="1565.7" stroke="#fbb817" stroke-width="3" stroke-linecap="butt"/>
<line x1="1370.9" y1="1519" x2="1380.1" y2="1519" stroke="#fbb817" stroke-width="3" stroke-linecap="butt"/>
<line x1="1370.9" y1="1565.7" x2="1380.1" y2="1565.7" stroke="#fbb817" stroke-width="3" stroke-linecap="butt"/>
<circle cx="1375.5" cy="1541.8" r="8.2" fill="#fbb817"/>
<line x1="1532.1" y1="1498.3" x2="1532.1" y2="1549.3" stroke="#fbb817" stroke-width="3" stroke-linecap="butt"/>
<line x1="1527.5" y1="1498.3" x2="1536.7" y2="1498.3" stroke="#fbb817" stroke-width="3" stroke-linecap="butt"/>
<line x1="1527.5" y1="1549.3" x2="1536.7" y2="1549.3" stroke="#fbb817" stroke-width="3" stroke-linecap="butt"/>
<circle cx="1532.1" cy="1524" r="8.2" fill="#fbb817"/>
<line x1="1688.7" y1="1458.8" x2="1688.7" y2="1520.7" stroke="#fbb817" stroke-width="3" stroke-linecap="butt"/>
<line x1="1684.1" y1="1458.8" x2="1693.3" y2="1458.8" stroke="#fbb817" stroke-width="3" stroke-linecap="butt"/>
<line x1="1684.1" y1="1520.7" x2="1693.3" y2="1520.7" stroke="#fbb817" stroke-width="3" stroke-linecap="butt"/>
<circle cx="1688.7" cy="1489.6" r="8.2" fill="#fbb817"/>
<polyline points="905.5,1480 1062.5,1456.1 1218.7,1451.4 1375.5,1438.9 1532.1,1420.8 1688.7,1398.9" fill="none" stroke="#0c6487" stroke-width="3.6" stroke-linejoin="round"/>
<line x1="905.5" y1="1448.6" x2="905.5" y2="1511.5" stroke="#0c6487" stroke-width="3" stroke-linecap="butt"/>
<line x1="900.9" y1="1448.6" x2="910.1" y2="1448.6" stroke="#0c6487" stroke-width="3" stroke-linecap="butt"/>
<line x1="900.9" y1="1511.5" x2="910.1" y2="1511.5" stroke="#0c6487" stroke-width="3" stroke-linecap="butt"/>
<circle cx="905.5" cy="1480" r="8.2" fill="#0c6487"/>
<line x1="1062.5" y1="1425" x2="1062.5" y2="1487.4" stroke="#0c6487" stroke-width="3" stroke-linecap="butt"/>
<line x1="1057.9" y1="1425" x2="1067.1" y2="1425" stroke="#0c6487" stroke-width="3" stroke-linecap="butt"/>
<line x1="1057.9" y1="1487.4" x2="1067.1" y2="1487.4" stroke="#0c6487" stroke-width="3" stroke-linecap="butt"/>
<circle cx="1062.5" cy="1456.1" r="8.2" fill="#0c6487"/>
<line x1="1218.7" y1="1420.8" x2="1218.7" y2="1481.7" stroke="#0c6487" stroke-width="3" stroke-linecap="butt"/>
<line x1="1214.1" y1="1420.8" x2="1223.3" y2="1420.8" stroke="#0c6487" stroke-width="3" stroke-linecap="butt"/>
<line x1="1214.1" y1="1481.7" x2="1223.3" y2="1481.7" stroke="#0c6487" stroke-width="3" stroke-linecap="butt"/>
<circle cx="1218.7" cy="1451.4" r="8.2" fill="#0c6487"/>
<line x1="1375.5" y1="1407.6" x2="1375.5" y2="1469.3" stroke="#0c6487" stroke-width="3" stroke-linecap="butt"/>
<line x1="1370.9" y1="1407.6" x2="1380.1" y2="1407.6" stroke="#0c6487" stroke-width="3" stroke-linecap="butt"/>
<line x1="1370.9" y1="1469.3" x2="1380.1" y2="1469.3" stroke="#0c6487" stroke-width="3" stroke-linecap="butt"/>
<circle cx="1375.5" cy="1438.9" r="8.2" fill="#0c6487"/>
<line x1="1532.1" y1="1389.2" x2="1532.1" y2="1453.6" stroke="#0c6487" stroke-width="3" stroke-linecap="butt"/>
<line x1="1527.5" y1="1389.2" x2="1536.7" y2="1389.2" stroke="#0c6487" stroke-width="3" stroke-linecap="butt"/>
<line x1="1527.5" y1="1453.6" x2="1536.7" y2="1453.6" stroke="#0c6487" stroke-width="3" stroke-linecap="butt"/>
<circle cx="1532.1" cy="1420.8" r="8.2" fill="#0c6487"/>
<line x1="1688.7" y1="1367.3" x2="1688.7" y2="1431.2" stroke="#0c6487" stroke-width="3" stroke-linecap="butt"/>
<line x1="1684.1" y1="1367.3" x2="1693.3" y2="1367.3" stroke="#0c6487" stroke-width="3" stroke-linecap="butt"/>
<line x1="1684.1" y1="1431.2" x2="1693.3" y2="1431.2" stroke="#0c6487" stroke-width="3" stroke-linecap="butt"/>
<circle cx="1688.7" cy="1398.9" r="8.2" fill="#0c6487"/>
<line x1="980.5" y1="1053.6" x2="1014" y2="1053.6" stroke="#fbb817" stroke-width="3.6" stroke-linecap="butt"/>
<circle cx="997" cy="1053.6" r="8" fill="#fbb817"/>
<text transform="translate(1016.5 1064.9) scale(1 1.015)" font-size="34.8" text-anchor="start">Observer Rare</text>
<line x1="1309.5" y1="1053.6" x2="1343" y2="1053.6" stroke="#0c6487" stroke-width="3.6" stroke-linecap="butt"/>
<circle cx="1326" cy="1053.6" r="8" fill="#0c6487"/>
<text transform="translate(1345.8 1064.9) scale(1 1.015)" font-size="34.8" text-anchor="start">Observer Typical</text>
<text transform="translate(283.6 773.5) scale(1 1.03)" font-size="38.4"><tspan dy="-0" font-size="38.4" font-style="italic">p</tspan><tspan dy="0" font-size="38.4" font-style="normal"> &lt; .001,&#160; </tspan><tspan dy="0" font-size="38.4" font-style="italic">η</tspan><tspan dy="-11.5" font-size="25.5" font-style="normal">2</tspan><tspan dy="19.2" font-size="25.5" font-style="italic">p</tspan><tspan dy="-7.7" font-size="38.4" font-style="normal"> = .15</tspan></text>
<text transform="translate(1147.3 774) scale(1 1.03)" font-size="38.4"><tspan dy="-0" font-size="38.4" font-style="italic">p</tspan><tspan dy="0" font-size="38.4" font-style="normal"> &lt; .001, </tspan><tspan dy="0" font-size="38.4" font-style="italic">η</tspan><tspan dy="-11.5" font-size="25.5" font-style="normal">2</tspan><tspan dy="19.2" font-size="25.5" font-style="italic">p</tspan><tspan dy="-7.7" font-size="38.4" font-style="normal"> = .05</tspan></text>
<text transform="translate(288.8 1706.4) scale(1 1.03)" font-size="38.4"><tspan dy="-0" font-size="38.4" font-style="italic">p</tspan><tspan dy="0" font-size="38.4" font-style="normal"> &lt; .001, </tspan><tspan dy="0" font-size="38.4" font-style="italic">η</tspan><tspan dy="-11.5" font-size="25.5" font-style="normal">2</tspan><tspan dy="19.2" font-size="25.5" font-style="italic">p</tspan><tspan dy="-7.7" font-size="38.4" font-style="normal"> = .15</tspan></text>
<text transform="translate(1158.2 1706.4) scale(1 1.03)" font-size="38.4"><tspan dy="-0" font-size="38.4" font-style="italic">p</tspan><tspan dy="0" font-size="38.4" font-style="normal"> = .48, </tspan><tspan dy="0" font-size="38.4" font-style="italic">η</tspan><tspan dy="-11.5" font-size="25.5" font-style="normal">2</tspan><tspan dy="19.2" font-size="25.5" font-style="italic">p</tspan><tspan dy="-7.7" font-size="38.4" font-style="normal"> &lt; .01</tspan></text>
</svg>
</body></html>
